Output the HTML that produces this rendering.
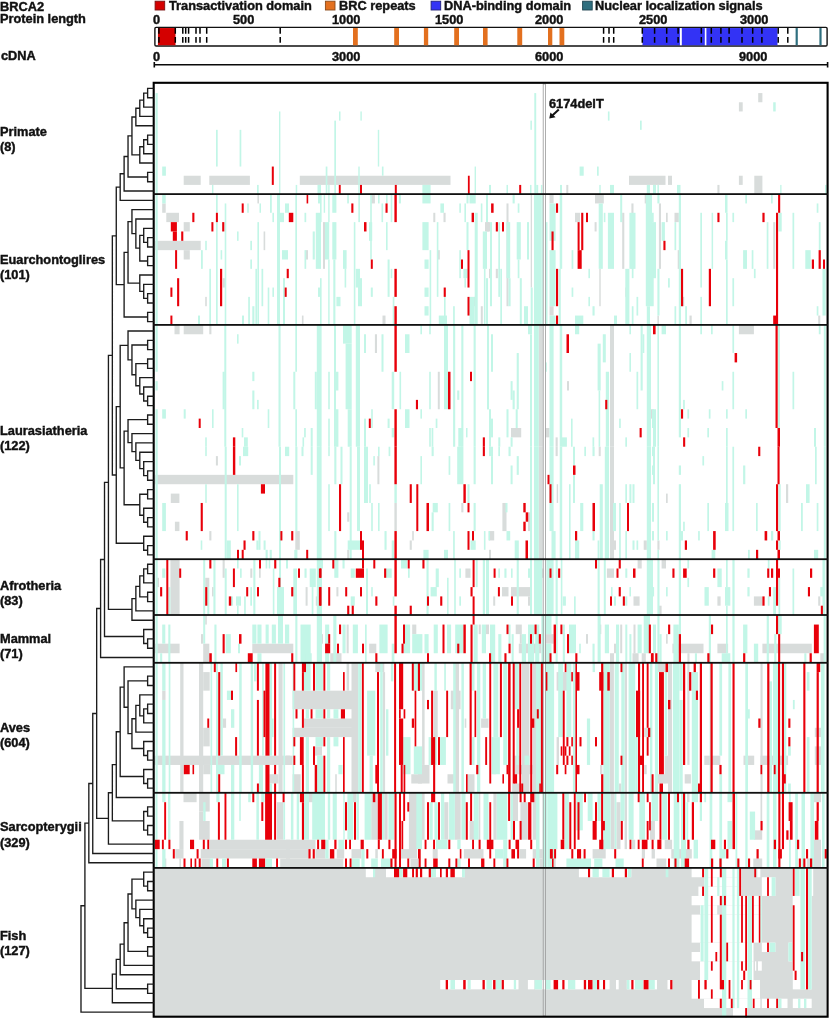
<!DOCTYPE html>
<html><head><meta charset="utf-8"><style>
html,body{margin:0;padding:0;background:#fff;}
body{width:830px;height:1019px;position:relative;overflow:hidden;}
.t{position:absolute;font-family:"Liberation Sans",sans-serif;font-weight:bold;font-size:12px;line-height:1;white-space:nowrap;color:#111;transform-origin:0 0;transform:scaleX(1.065);will-change:transform;-webkit-font-smoothing:antialiased;-webkit-text-stroke:0.4px #111;}
</style></head><body>
<svg width="830" height="1019" viewBox="0 0 830 1019" style="position:absolute;left:0;top:0"><g fill="#d8dcdb"><rect x="170.4" y="559.2" width="9.2" height="55.8"/><rect x="156" y="577.8" width="3" height="9.3"/><rect x="205.2" y="577.8" width="4.1" height="9.3"/><rect x="212" y="587.1" width="1.6" height="9.3"/><rect x="222.6" y="559.2" width="2.1" height="18.6"/><rect x="250.3" y="568.5" width="2" height="9.3"/><rect x="259" y="568.5" width="1.7" height="9.3"/><rect x="305.6" y="587.1" width="2" height="18.6"/><rect x="315.8" y="596.4" width="2.1" height="9.3"/><rect x="155" y="643.68" width="24.6" height="9.56"/><rect x="203.2" y="643.68" width="6.1" height="19.12"/><rect x="201" y="634.12" width="2.2" height="9.56"/><rect x="205.2" y="615" width="1.6" height="9.56"/><rect x="252.3" y="643.68" width="41" height="9.56"/><rect x="304.5" y="634.12" width="2.1" height="9.56"/><rect x="465.4" y="568.5" width="5.1" height="9.3"/><rect x="336.4" y="587.1" width="2" height="9.3"/><rect x="320" y="634.12" width="3" height="9.56"/><rect x="346.6" y="624.56" width="2.1" height="28.68"/><rect x="369.2" y="643.68" width="7.1" height="9.56"/><rect x="412.2" y="624.56" width="4.1" height="9.56"/><rect x="330.2" y="653.24" width="11.3" height="9.56"/><rect x="478.7" y="624.56" width="2.1" height="9.56"/><rect x="541.3" y="568.5" width="2.1" height="9.3"/><rect x="502" y="587.1" width="6.5" height="9.3"/><rect x="511" y="587.1" width="19" height="9.3"/><rect x="528" y="596.4" width="2" height="9.3"/><rect x="493.2" y="596.4" width="2" height="9.3"/><rect x="538.2" y="587.1" width="2.1" height="9.3"/><rect x="606.9" y="568.5" width="7.1" height="9.3"/><rect x="633.5" y="596.4" width="6.1" height="9.3"/><rect x="637.6" y="559.2" width="4.1" height="9.3"/><rect x="486" y="624.56" width="3" height="9.56"/><rect x="515.7" y="624.56" width="6.1" height="9.56"/><rect x="518.8" y="643.68" width="22.5" height="9.56"/><rect x="519.8" y="634.12" width="2" height="9.56"/><rect x="545.4" y="634.12" width="8.2" height="9.56"/><rect x="586" y="634.12" width="2" height="9.56"/><rect x="599.7" y="624.56" width="1.6" height="9.56"/><rect x="610" y="653.24" width="4" height="9.56"/><rect x="614" y="643.68" width="2" height="9.56"/><rect x="620.2" y="624.56" width="2" height="28.68"/><rect x="633.5" y="624.56" width="2" height="28.68"/><rect x="632.5" y="653.24" width="6.1" height="9.56"/><rect x="641.7" y="653.24" width="4.1" height="9.56"/><rect x="644.7" y="624.56" width="2.1" height="9.56"/><rect x="661.6" y="559.2" width="4.4" height="9.3"/><rect x="717.4" y="596.4" width="3.2" height="9.3"/><rect x="753.9" y="596.4" width="8.5" height="9.3"/><rect x="658.4" y="605.7" width="3.2" height="9.3"/><rect x="818.2" y="596.4" width="2.1" height="9.3"/><rect x="666" y="634.12" width="1.7" height="9.56"/><rect x="672.4" y="643.68" width="31.1" height="9.56"/><rect x="717.4" y="643.68" width="10.7" height="9.56"/><rect x="762.4" y="643.68" width="49.4" height="9.56"/><rect x="820.3" y="653.24" width="5" height="9.56"/><rect x="687.4" y="653.24" width="2.1" height="9.56"/><rect x="154.5" y="755.66" width="135.5" height="9.29"/><rect x="180.2" y="662.8" width="3.3" height="130"/><rect x="199" y="662.8" width="4.2" height="130"/><rect x="203.2" y="672.09" width="6.5" height="18.57"/><rect x="203.2" y="727.8" width="6.5" height="18.57"/><rect x="162.2" y="690.66" width="3.3" height="9.29"/><rect x="222.8" y="718.51" width="3.3" height="9.29"/><rect x="278.5" y="662.8" width="4.1" height="130"/><rect x="269.5" y="774.23" width="9" height="9.29"/><rect x="203.2" y="764.94" width="7.3" height="9.29"/><rect x="292.6" y="690.66" width="65.5" height="18.57"/><rect x="304" y="718.51" width="54.1" height="9.29"/><rect x="292.6" y="727.8" width="65.5" height="9.29"/><rect x="351.5" y="662.8" width="6.6" height="130"/><rect x="314.7" y="746.37" width="7.3" height="9.29"/><rect x="286" y="755.66" width="6.6" height="9.29"/><rect x="375.3" y="662.8" width="9" height="9.29"/><rect x="382.7" y="672.09" width="2.4" height="120.71"/><rect x="411.3" y="774.23" width="10.7" height="9.29"/><rect x="292.6" y="774.23" width="8.1" height="18.57"/><rect x="335.2" y="774.23" width="1.6" height="18.57"/><rect x="346.6" y="662.8" width="2.5" height="27.86"/><rect x="422.1" y="662.8" width="2.5" height="102.14"/><rect x="433.6" y="690.66" width="4.1" height="46.43"/><rect x="450.8" y="690.66" width="9.8" height="18.57"/><rect x="454" y="662.8" width="5" height="130"/><rect x="481.1" y="718.51" width="7.4" height="9.29"/><rect x="464.7" y="718.51" width="1.6" height="9.29"/><rect x="418" y="764.94" width="11.5" height="18.57"/><rect x="447.5" y="774.23" width="9.8" height="9.29"/><rect x="467.2" y="774.23" width="7.3" height="18.57"/><rect x="493.4" y="764.94" width="2.4" height="9.29"/><rect x="513" y="755.66" width="6.6" height="18.57"/><rect x="522" y="662.8" width="7.4" height="130"/><rect x="519.6" y="764.94" width="13.1" height="9.29"/><rect x="512.2" y="783.51" width="8.2" height="9.29"/><rect x="532.7" y="662.8" width="3.3" height="130"/><rect x="556.6" y="672.09" width="13.1" height="18.57"/><rect x="556.6" y="737.09" width="2.4" height="27.86"/><rect x="609.8" y="662.8" width="4.1" height="130"/><rect x="624.6" y="662.8" width="2.4" height="130"/><rect x="644.2" y="727.8" width="4.1" height="9.29"/><rect x="644.2" y="764.94" width="2.5" height="9.29"/><rect x="600" y="764.94" width="2.4" height="9.29"/><rect x="618.8" y="783.51" width="2.5" height="9.29"/><rect x="657.3" y="662.8" width="8.2" height="9.29"/><rect x="657.3" y="774.23" width="8.2" height="9.29"/><rect x="668" y="662.8" width="4" height="130"/><rect x="664.7" y="755.66" width="6.6" height="27.86"/><rect x="687.3" y="662.8" width="2.2" height="102.14"/><rect x="684.7" y="774.23" width="6.2" height="9.29"/><rect x="704.3" y="755.66" width="16" height="9.29"/><rect x="743.5" y="755.66" width="10.7" height="9.29"/><rect x="760.5" y="755.66" width="27.6" height="9.29"/><rect x="760.5" y="662.8" width="2.1" height="130"/><rect x="814.8" y="727.8" width="6.2" height="9.29"/><rect x="814.8" y="746.37" width="6.2" height="18.57"/><rect x="162.2" y="203.44" width="3.5" height="9.34"/><rect x="166.3" y="212.79" width="12.7" height="9.34"/><rect x="183.7" y="222.13" width="6.1" height="9.34"/><rect x="155" y="240.81" width="45.7" height="9.34"/><rect x="183.7" y="250.16" width="6.1" height="9.34"/><rect x="257.4" y="194.1" width="1.6" height="9.34"/><rect x="263.6" y="231.47" width="1.6" height="18.69"/><rect x="305.6" y="250.16" width="2.4" height="9.34"/><rect x="222.8" y="278.19" width="2.1" height="9.34"/><rect x="205.2" y="296.87" width="1.6" height="9.34"/><rect x="301.9" y="315.56" width="1.6" height="9.34"/><rect x="371.2" y="194.1" width="3.7" height="9.34"/><rect x="433.3" y="212.79" width="2" height="9.34"/><rect x="443.5" y="212.79" width="2.1" height="9.34"/><rect x="323" y="222.13" width="2" height="46.71"/><rect x="437.8" y="250.16" width="2" height="9.34"/><rect x="485" y="222.13" width="5" height="9.34"/><rect x="474" y="296.87" width="2" height="9.34"/><rect x="480.8" y="306.21" width="2" height="18.69"/><rect x="382.5" y="315.56" width="3" height="9.34"/><rect x="486" y="222.13" width="3" height="9.34"/><rect x="506.5" y="203.44" width="2" height="102.77"/><rect x="549.5" y="194.1" width="4.1" height="9.34"/><rect x="549.5" y="306.21" width="4.1" height="9.34"/><rect x="575" y="212.79" width="5" height="9.34"/><rect x="595" y="194.1" width="8.8" height="9.34"/><rect x="594.6" y="222.13" width="2" height="9.34"/><rect x="599.3" y="268.84" width="1.4" height="37.37"/><rect x="622.2" y="212.79" width="2.1" height="56.06"/><rect x="631.4" y="203.44" width="2.1" height="65.4"/><rect x="644.7" y="194.1" width="2.1" height="9.34"/><rect x="653" y="250.16" width="3" height="18.69"/><rect x="489" y="268.84" width="2" height="9.34"/><rect x="495.8" y="268.84" width="2.1" height="9.34"/><rect x="530.7" y="194.1" width="1.3" height="93.43"/><rect x="625.3" y="287.53" width="2" height="9.34"/><rect x="658.9" y="203.44" width="2.1" height="65.4"/><rect x="666" y="212.79" width="1.7" height="9.34"/><rect x="674.5" y="212.79" width="4.3" height="9.34"/><rect x="652" y="250.16" width="2" height="18.69"/><rect x="677.7" y="250.16" width="2.2" height="18.69"/><rect x="773.2" y="222.13" width="2.1" height="46.71"/><rect x="682" y="296.87" width="2.2" height="9.34"/><rect x="689.5" y="315.56" width="2.2" height="9.34"/><rect x="657.4" y="315.56" width="1.5" height="9.34"/><rect x="818.2" y="315.56" width="2.1" height="9.34"/><rect x="154.5" y="867.9" width="672" height="149.5"/><rect x="174.5" y="324.9" width="5.1" height="9.37"/><rect x="183.7" y="324.9" width="19.5" height="9.37"/><rect x="209.3" y="324.9" width="2.1" height="9.37"/><rect x="374.9" y="334.27" width="2.1" height="18.74"/><rect x="437.8" y="371.76" width="2" height="37.49"/><rect x="567" y="381.13" width="2" height="9.37"/><rect x="610" y="324.9" width="4" height="121.84"/><rect x="511" y="427.99" width="10.2" height="9.37"/><rect x="545.4" y="427.99" width="4.1" height="9.37"/><rect x="555.6" y="437.36" width="2.1" height="9.37"/><rect x="538.8" y="324.9" width="4" height="121.84"/><rect x="651" y="409.25" width="2" height="9.37"/><rect x="738.9" y="324.9" width="15" height="9.37"/><rect x="155" y="474.85" width="138.3" height="9.37"/><rect x="215.9" y="456.11" width="2" height="9.37"/><rect x="170.8" y="493.6" width="8.6" height="9.37"/><rect x="174.9" y="521.71" width="4.5" height="9.37"/><rect x="209.3" y="531.08" width="2.1" height="9.37"/><rect x="295.3" y="531.08" width="4.5" height="18.74"/><rect x="377.4" y="456.11" width="2" height="28.12"/><rect x="394.4" y="502.97" width="2.4" height="28.12"/><rect x="347.2" y="512.34" width="2.1" height="9.37"/><rect x="412.2" y="531.08" width="1.6" height="9.37"/><rect x="409.7" y="540.46" width="2.1" height="9.37"/><rect x="461.3" y="502.97" width="2.1" height="9.37"/><rect x="347.2" y="549.83" width="2.1" height="9.37"/><rect x="538.8" y="446.74" width="4" height="112.46"/><rect x="610" y="446.74" width="4" height="112.46"/><rect x="502.4" y="502.97" width="4.1" height="28.12"/><rect x="489" y="531.08" width="5.2" height="9.37"/><rect x="556.7" y="484.22" width="1.4" height="18.74"/><rect x="489" y="549.83" width="2" height="9.37"/><rect x="598.7" y="446.74" width="2" height="9.37"/><rect x="528" y="512.34" width="2" height="18.74"/><rect x="643.7" y="540.46" width="3.1" height="9.37"/><rect x="555.6" y="446.74" width="2.1" height="9.37"/><rect x="614" y="540.46" width="2" height="9.37"/><rect x="666" y="493.6" width="1.7" height="9.37"/><rect x="786" y="484.22" width="2.2" height="18.74"/><rect x="657.4" y="540.46" width="2.1" height="9.37"/><rect x="183.7" y="175.73" width="17" height="9.18"/><rect x="209.3" y="175.73" width="40.6" height="9.18"/><rect x="299.8" y="175.73" width="150.7" height="9.18"/><rect x="629" y="175.73" width="36.5" height="9.18"/><rect x="566.3" y="184.92" width="2" height="9.18"/><rect x="738.9" y="102.27" width="3.8" height="9.18"/><rect x="758.2" y="93.08" width="4.2" height="9.18"/><rect x="668" y="175.73" width="4" height="9.18"/><rect x="738.9" y="175.73" width="3.8" height="9.18"/><rect x="754.3" y="175.73" width="8.1" height="18.37"/><rect x="717.4" y="184.92" width="2.1" height="9.18"/><rect x="183.5" y="792.8" width="13.1" height="9.39"/><rect x="199.1" y="792.8" width="10.6" height="18.77"/><rect x="199.1" y="811.57" width="4.1" height="9.39"/><rect x="199.1" y="820.96" width="10.6" height="18.77"/><rect x="179.4" y="820.96" width="4.1" height="28.16"/><rect x="209.7" y="839.74" width="80.3" height="9.39"/><rect x="175.3" y="849.12" width="8.2" height="9.39"/><rect x="200.7" y="849.12" width="89.3" height="9.39"/><rect x="201.5" y="858.51" width="9" height="9.39"/><rect x="163" y="858.51" width="3.3" height="9.39"/><rect x="276.9" y="802.19" width="6.5" height="37.55"/><rect x="280.2" y="858.51" width="9.8" height="9.39"/><rect x="179.4" y="858.51" width="1.6" height="9.39"/><rect x="286" y="839.74" width="29.5" height="9.39"/><rect x="286" y="849.12" width="22.1" height="9.39"/><rect x="286" y="858.51" width="57.3" height="9.39"/><rect x="315.5" y="849.12" width="9.8" height="9.39"/><rect x="336.8" y="849.12" width="7.4" height="9.39"/><rect x="351.5" y="849.12" width="9.9" height="9.39"/><rect x="371.2" y="792.8" width="6.6" height="46.94"/><rect x="351.5" y="792.8" width="5" height="9.39"/><rect x="308.1" y="792.8" width="6.6" height="9.39"/><rect x="408.9" y="792.8" width="8.2" height="65.71"/><rect x="375.3" y="849.12" width="2.5" height="9.39"/><rect x="384.3" y="792.8" width="3.3" height="46.94"/><rect x="410.5" y="858.51" width="8.2" height="9.39"/><rect x="400.7" y="849.12" width="9.8" height="9.39"/><rect x="421.3" y="792.8" width="3.3" height="46.94"/><rect x="444.2" y="802.19" width="4.1" height="37.55"/><rect x="454.9" y="792.8" width="5.7" height="46.94"/><rect x="469.6" y="820.96" width="4.9" height="18.77"/><rect x="478.6" y="792.8" width="1.7" height="46.94"/><rect x="493.4" y="792.8" width="3.3" height="46.94"/><rect x="513" y="792.8" width="5" height="28.16"/><rect x="520.4" y="802.19" width="7.4" height="37.55"/><rect x="532.7" y="792.8" width="4.1" height="46.94"/><rect x="432.7" y="849.12" width="5" height="9.39"/><rect x="463.9" y="849.12" width="19.6" height="9.39"/><rect x="532.7" y="849.12" width="9.8" height="9.39"/><rect x="539.3" y="858.51" width="3.2" height="9.39"/><rect x="519.6" y="849.12" width="6.5" height="9.39"/><rect x="610.6" y="792.8" width="4.1" height="56.33"/><rect x="616.4" y="802.19" width="4.1" height="46.94"/><rect x="624.6" y="792.8" width="2.4" height="56.33"/><rect x="631.9" y="839.74" width="3.3" height="9.39"/><rect x="650" y="820.96" width="4.9" height="18.77"/><rect x="664.7" y="839.74" width="7.4" height="9.39"/><rect x="592.6" y="849.12" width="13.1" height="9.39"/><rect x="641.8" y="849.12" width="3.2" height="9.39"/><rect x="651.6" y="849.12" width="3.3" height="9.39"/><rect x="671.3" y="849.12" width="14.7" height="9.39"/><rect x="656.5" y="858.51" width="9.8" height="9.39"/><rect x="553.3" y="858.51" width="2.4" height="9.39"/><rect x="687" y="792.8" width="2.5" height="9.39"/><rect x="760.5" y="792.8" width="1.7" height="28.16"/><rect x="754.2" y="830.35" width="8" height="9.39"/><rect x="682" y="849.12" width="9.8" height="9.39"/><rect x="753.3" y="858.51" width="8.9" height="9.39"/><rect x="814" y="792.8" width="7" height="9.39"/><rect x="814" y="839.74" width="7" height="28.16"/><rect x="806.8" y="858.51" width="3.6" height="9.39"/></g>
<g fill="#ffffff"><rect x="365.8" y="867.9" width="7.3" height="9.34"/><rect x="386" y="867.9" width="79" height="9.34"/><rect x="578.9" y="867.9" width="52.4" height="9.34"/><rect x="691.6" y="867.9" width="49.8" height="9.34"/><rect x="757.3" y="867.9" width="3" height="9.34"/><rect x="792.8" y="867.9" width="20.4" height="28.03"/><rect x="704.4" y="877.24" width="37" height="9.34"/><rect x="761.8" y="877.24" width="13.6" height="18.69"/><rect x="698.4" y="886.59" width="43" height="9.34"/><rect x="691.6" y="895.93" width="70.2" height="9.34"/><rect x="792.8" y="895.93" width="7.6" height="9.34"/><rect x="700" y="905.27" width="17.2" height="9.34"/><rect x="723.3" y="905.27" width="38.5" height="9.34"/><rect x="691.6" y="914.62" width="70.2" height="28.03"/><rect x="700" y="942.65" width="53.5" height="9.34"/><rect x="761.8" y="942.65" width="13.6" height="9.34"/><rect x="788.3" y="942.65" width="3.7" height="18.69"/><rect x="691.6" y="951.99" width="61.9" height="9.34"/><rect x="700" y="961.34" width="53.5" height="18.69"/><rect x="755" y="961.34" width="1.2" height="9.34"/><rect x="758" y="961.34" width="3.8" height="9.34"/><rect x="792.8" y="895.93" width="18.9" height="93.44"/><rect x="440.2" y="980.02" width="78.3" height="9.34"/><rect x="527.9" y="980.02" width="6.2" height="9.34"/><rect x="534.6" y="980.02" width="75" height="9.34"/><rect x="616" y="980.02" width="2.7" height="9.34"/><rect x="626.8" y="980.02" width="30.2" height="9.34"/><rect x="667.5" y="980.02" width="4.9" height="9.34"/><rect x="691.6" y="980.02" width="68.4" height="18.69"/><rect x="704" y="998.71" width="56.3" height="9.34"/><rect x="761.8" y="998.71" width="5.3" height="9.34"/><rect x="768.9" y="998.71" width="18.6" height="9.34"/><rect x="792.8" y="998.71" width="18.9" height="9.34"/><rect x="733" y="1008.06" width="12" height="9.34"/></g>
<g fill="#c2f6e7"><rect x="155.5" y="559.2" width="2.2" height="103.6"/><rect x="162.2" y="568.5" width="3.1" height="9.3"/><rect x="168.3" y="587.1" width="2.1" height="27.9"/><rect x="203.2" y="559.2" width="2" height="55.8"/><rect x="207.3" y="587.1" width="2" height="27.9"/><rect x="213.4" y="559.2" width="2.1" height="55.8"/><rect x="224.7" y="568.5" width="2" height="46.5"/><rect x="230.8" y="596.4" width="2.1" height="9.3"/><rect x="236" y="596.4" width="5" height="9.3"/><rect x="237" y="559.2" width="1.6" height="9.3"/><rect x="237" y="605.7" width="1.6" height="9.3"/><rect x="240" y="568.5" width="1.7" height="9.3"/><rect x="244.1" y="596.4" width="1.7" height="18.6"/><rect x="250.3" y="587.1" width="1.7" height="18.6"/><rect x="253.3" y="559.2" width="2.1" height="55.8"/><rect x="265.6" y="559.2" width="1.7" height="9.3"/><rect x="268.7" y="559.2" width="1.6" height="9.3"/><rect x="272.8" y="568.5" width="1.6" height="46.5"/><rect x="277" y="587.1" width="7" height="27.9"/><rect x="279" y="559.2" width="2" height="27.9"/><rect x="286" y="559.2" width="2" height="9.3"/><rect x="293.3" y="568.5" width="3.7" height="46.5"/><rect x="304.5" y="568.5" width="2.1" height="9.3"/><rect x="309.7" y="568.5" width="6.1" height="18.6"/><rect x="311.7" y="587.1" width="1.7" height="27.9"/><rect x="316.8" y="559.2" width="5.2" height="55.8"/><rect x="162.2" y="624.56" width="3.1" height="19.12"/><rect x="168.3" y="624.56" width="2.1" height="38.24"/><rect x="160.1" y="653.24" width="2.1" height="9.56"/><rect x="203.2" y="615" width="2" height="28.68"/><rect x="214.4" y="624.56" width="2.1" height="38.24"/><rect x="225.7" y="634.12" width="5.1" height="19.12"/><rect x="238" y="643.68" width="2" height="9.56"/><rect x="252.3" y="624.56" width="4.1" height="19.12"/><rect x="257.4" y="624.56" width="4.1" height="19.12"/><rect x="257.4" y="653.24" width="4.1" height="9.56"/><rect x="265.6" y="624.56" width="3.1" height="19.12"/><rect x="271.8" y="624.56" width="4.1" height="19.12"/><rect x="278" y="615" width="5" height="28.68"/><rect x="285" y="624.56" width="4.2" height="19.12"/><rect x="295.3" y="615" width="2.1" height="47.8"/><rect x="300.5" y="624.56" width="10.2" height="38.24"/><rect x="305.6" y="653.24" width="6.1" height="9.56"/><rect x="316.8" y="615" width="5.2" height="47.8"/><rect x="320" y="559.2" width="3" height="9.3"/><rect x="334.3" y="559.2" width="4.1" height="18.6"/><rect x="342.5" y="559.2" width="2.1" height="9.3"/><rect x="350.7" y="568.5" width="4.1" height="9.3"/><rect x="350.7" y="596.4" width="4.1" height="9.3"/><rect x="366" y="568.5" width="2" height="46.5"/><rect x="371.2" y="587.1" width="1.6" height="9.3"/><rect x="385.5" y="568.5" width="6.2" height="9.3"/><rect x="392.7" y="596.4" width="1.7" height="9.3"/><rect x="401" y="559.2" width="6" height="9.3"/><rect x="408" y="568.5" width="1.7" height="9.3"/><rect x="426.5" y="559.2" width="2.1" height="55.8"/><rect x="430.6" y="587.1" width="6.2" height="9.3"/><rect x="435.7" y="568.5" width="3.1" height="18.6"/><rect x="447" y="577.8" width="1.6" height="37.2"/><rect x="454.2" y="559.2" width="1.6" height="55.8"/><rect x="459.3" y="568.5" width="1.7" height="9.3"/><rect x="459.3" y="596.4" width="1.7" height="9.3"/><rect x="475.7" y="559.2" width="2" height="27.9"/><rect x="482.8" y="559.2" width="2.2" height="55.8"/><rect x="325.1" y="624.56" width="4.1" height="38.24"/><rect x="333.3" y="615" width="3.1" height="47.8"/><rect x="342.5" y="624.56" width="3.1" height="28.68"/><rect x="352.8" y="624.56" width="5.1" height="28.68"/><rect x="365" y="624.56" width="1.7" height="38.24"/><rect x="379.4" y="624.56" width="8.2" height="28.68"/><rect x="391.7" y="643.68" width="2.7" height="19.12"/><rect x="404" y="624.56" width="6.1" height="28.68"/><rect x="412.2" y="634.12" width="10.2" height="19.12"/><rect x="424.5" y="634.12" width="4.1" height="19.12"/><rect x="433.7" y="624.56" width="4.1" height="28.68"/><rect x="447" y="624.56" width="4.1" height="28.68"/><rect x="455.2" y="624.56" width="8.2" height="28.68"/><rect x="473.6" y="624.56" width="4.1" height="38.24"/><rect x="481.8" y="624.56" width="4.2" height="28.68"/><rect x="486" y="559.2" width="3" height="55.8"/><rect x="498.3" y="568.5" width="1.7" height="9.3"/><rect x="504.4" y="568.5" width="2.1" height="9.3"/><rect x="511" y="568.5" width="1.6" height="9.3"/><rect x="516.7" y="559.2" width="2.1" height="55.8"/><rect x="528" y="568.5" width="4" height="9.3"/><rect x="530" y="559.2" width="2" height="55.8"/><rect x="534" y="559.2" width="8.3" height="55.8"/><rect x="546.4" y="559.2" width="7.2" height="55.8"/><rect x="555.6" y="559.2" width="2.1" height="55.8"/><rect x="560.8" y="559.2" width="1.6" height="55.8"/><rect x="562.8" y="596.4" width="3.1" height="9.3"/><rect x="574" y="596.4" width="1.7" height="18.6"/><rect x="597.6" y="559.2" width="2.1" height="55.8"/><rect x="603.8" y="559.2" width="2" height="55.8"/><rect x="611" y="587.1" width="1.6" height="9.3"/><rect x="614" y="596.4" width="2" height="9.3"/><rect x="625.3" y="568.5" width="2" height="9.3"/><rect x="625.3" y="596.4" width="2" height="9.3"/><rect x="629.4" y="587.1" width="1.6" height="9.3"/><rect x="646.8" y="559.2" width="6.2" height="55.8"/><rect x="490" y="624.56" width="5.2" height="38.24"/><rect x="498.3" y="634.12" width="3.1" height="28.68"/><rect x="508.5" y="624.56" width="2.1" height="19.12"/><rect x="511.6" y="634.12" width="2.1" height="28.68"/><rect x="521.8" y="634.12" width="4.2" height="28.68"/><rect x="528" y="624.56" width="6.1" height="38.24"/><rect x="535.2" y="624.56" width="4.1" height="38.24"/><rect x="541.3" y="615" width="3.1" height="47.8"/><rect x="545.4" y="615" width="6.1" height="19.12"/><rect x="545.4" y="643.68" width="6.1" height="19.12"/><rect x="555.6" y="615" width="2.1" height="47.8"/><rect x="562.8" y="624.56" width="2.1" height="38.24"/><rect x="569" y="624.56" width="7" height="28.68"/><rect x="579.2" y="643.68" width="1.6" height="9.56"/><rect x="592.5" y="643.68" width="2.1" height="19.12"/><rect x="597.6" y="615" width="3.1" height="47.8"/><rect x="604.8" y="624.56" width="4.2" height="28.68"/><rect x="616" y="624.56" width="3.1" height="38.24"/><rect x="625.3" y="624.56" width="2" height="38.24"/><rect x="629.4" y="634.12" width="2" height="28.68"/><rect x="637.6" y="624.56" width="4.1" height="28.68"/><rect x="643.7" y="615" width="6.3" height="38.24"/><rect x="653" y="624.56" width="3" height="28.68"/><rect x="652" y="587.1" width="2.1" height="9.3"/><rect x="657.4" y="559.2" width="2.1" height="103.6"/><rect x="666" y="587.1" width="1.7" height="9.3"/><rect x="678.8" y="559.2" width="2.2" height="74.92"/><rect x="687.4" y="559.2" width="1.7" height="9.3"/><rect x="687.4" y="577.8" width="1.7" height="9.3"/><rect x="704.5" y="587.1" width="4.3" height="18.6"/><rect x="717.4" y="568.5" width="4.3" height="18.6"/><rect x="725" y="587.1" width="5.3" height="18.6"/><rect x="726" y="559.2" width="1.7" height="27.9"/><rect x="726" y="605.7" width="1.7" height="47.54"/><rect x="732.4" y="559.2" width="2.2" height="103.6"/><rect x="747.4" y="568.5" width="2.2" height="9.3"/><rect x="747.4" y="587.1" width="2.2" height="9.3"/><rect x="767.8" y="559.2" width="1.7" height="9.3"/><rect x="767.8" y="596.4" width="1.7" height="9.3"/><rect x="773.2" y="587.1" width="2.8" height="27.9"/><rect x="778.5" y="577.8" width="1.7" height="37.2"/><rect x="792.5" y="568.5" width="1.7" height="46.5"/><rect x="820.3" y="587.1" width="3.3" height="9.3"/><rect x="822.5" y="559.2" width="2.8" height="55.8"/><rect x="659.5" y="634.12" width="2.1" height="28.68"/><rect x="673.4" y="624.56" width="5.4" height="38.24"/><rect x="694.9" y="653.24" width="2.1" height="9.56"/><rect x="708.8" y="615" width="2.2" height="47.8"/><rect x="721.7" y="653.24" width="8.6" height="9.56"/><rect x="743.1" y="624.56" width="4.3" height="28.68"/><rect x="753.9" y="643.68" width="4.3" height="19.12"/><rect x="766.7" y="615" width="2.2" height="47.8"/><rect x="778.1" y="615" width="3.6" height="19.12"/><rect x="774.2" y="634.12" width="2.2" height="28.68"/><rect x="804.3" y="653.24" width="2.1" height="9.56"/><rect x="823.6" y="615" width="2.1" height="47.8"/><rect x="155.5" y="662.8" width="2.2" height="130"/><rect x="162.2" y="662.8" width="3.3" height="27.86"/><rect x="162.2" y="699.94" width="3.3" height="92.86"/><rect x="168.7" y="662.8" width="1.7" height="130"/><rect x="210.5" y="662.8" width="1.7" height="130"/><rect x="216" y="662.8" width="2" height="130"/><rect x="216.3" y="764.94" width="8.2" height="9.29"/><rect x="220.4" y="662.8" width="2.4" height="92.86"/><rect x="226.9" y="690.66" width="4.1" height="9.29"/><rect x="231" y="709.23" width="3.3" height="18.57"/><rect x="231" y="764.94" width="3.3" height="27.86"/><rect x="239.2" y="662.8" width="2.5" height="130"/><rect x="250.7" y="662.8" width="2.4" height="130"/><rect x="254" y="662.8" width="2.4" height="18.57"/><rect x="258.9" y="764.94" width="4.1" height="27.86"/><rect x="262.1" y="662.8" width="1.7" height="92.86"/><rect x="269.5" y="662.8" width="2.5" height="92.86"/><rect x="269.5" y="783.51" width="2.5" height="9.29"/><rect x="272" y="718.51" width="1.6" height="18.57"/><rect x="283.4" y="662.8" width="1.7" height="130"/><rect x="292.6" y="662.8" width="1.6" height="130"/><rect x="304" y="662.8" width="6.6" height="27.86"/><rect x="305.7" y="709.23" width="3.3" height="9.29"/><rect x="305.7" y="737.09" width="3.3" height="55.71"/><rect x="315.5" y="662.8" width="7.4" height="27.86"/><rect x="315.5" y="709.23" width="7.4" height="9.29"/><rect x="315.5" y="737.09" width="7.4" height="9.29"/><rect x="317.1" y="755.66" width="5.8" height="37.14"/><rect x="327" y="662.8" width="3.2" height="27.86"/><rect x="327" y="709.23" width="3.2" height="9.29"/><rect x="327" y="737.09" width="3.2" height="55.71"/><rect x="333.5" y="709.23" width="4.9" height="9.29"/><rect x="333.5" y="737.09" width="4.9" height="9.29"/><rect x="338.4" y="764.94" width="4.1" height="9.29"/><rect x="358.1" y="662.8" width="3.3" height="130"/><rect x="367.1" y="690.66" width="8.2" height="65"/><rect x="369.6" y="755.66" width="3.2" height="37.14"/><rect x="380.2" y="662.8" width="2.5" height="130"/><rect x="386" y="709.23" width="2.4" height="46.43"/><rect x="390.9" y="662.8" width="2.4" height="18.57"/><rect x="403.2" y="737.09" width="7.3" height="37.14"/><rect x="413.8" y="662.8" width="8.2" height="27.86"/><rect x="413.8" y="746.37" width="8.2" height="27.86"/><rect x="428.6" y="737.09" width="2.5" height="27.86"/><rect x="434.4" y="662.8" width="2.4" height="27.86"/><rect x="434.4" y="737.09" width="2.4" height="27.86"/><rect x="440.1" y="737.09" width="5.8" height="27.86"/><rect x="444.2" y="662.8" width="1.7" height="27.86"/><rect x="453.2" y="662.8" width="2.5" height="130"/><rect x="461.4" y="662.8" width="2.5" height="130"/><rect x="472.1" y="662.8" width="2.4" height="27.86"/><rect x="472.1" y="737.09" width="2.4" height="27.86"/><rect x="477" y="662.8" width="3.3" height="130"/><rect x="482.7" y="662.8" width="3.3" height="55.71"/><rect x="491.7" y="737.09" width="8.2" height="37.14"/><rect x="493.4" y="662.8" width="4.9" height="74.29"/><rect x="503.2" y="662.8" width="4.1" height="102.14"/><rect x="514.7" y="662.8" width="4.1" height="46.43"/><rect x="516.3" y="727.8" width="2.5" height="37.14"/><rect x="524.5" y="755.66" width="4.9" height="9.29"/><rect x="536" y="662.8" width="4.9" height="130"/><rect x="545.8" y="662.8" width="8.2" height="130"/><rect x="550" y="662.8" width="4.1" height="130"/><rect x="558.2" y="662.8" width="4.9" height="74.29"/><rect x="566.4" y="662.8" width="4.9" height="74.29"/><rect x="572.9" y="662.8" width="2.5" height="130"/><rect x="586.9" y="718.51" width="3.2" height="46.43"/><rect x="592.6" y="662.8" width="2.4" height="9.29"/><rect x="603.3" y="662.8" width="6.5" height="130"/><rect x="614.7" y="662.8" width="4.1" height="130"/><rect x="621.3" y="662.8" width="3.3" height="130"/><rect x="628.6" y="662.8" width="6.6" height="130"/><rect x="635.2" y="737.09" width="2.5" height="55.71"/><rect x="650" y="662.8" width="2.4" height="130"/><rect x="654.9" y="662.8" width="3.2" height="130"/><rect x="664.7" y="672.09" width="2.5" height="83.57"/><rect x="672.9" y="662.8" width="6.5" height="130"/><rect x="679.4" y="662.8" width="3.3" height="27.86"/><rect x="679.4" y="699.94" width="3.3" height="92.86"/><rect x="691.8" y="672.09" width="6.2" height="120.71"/><rect x="709.6" y="662.8" width="1.8" height="130"/><rect x="719.4" y="662.8" width="2.7" height="92.86"/><rect x="719.4" y="774.23" width="2.7" height="18.57"/><rect x="728.4" y="662.8" width="2.6" height="130"/><rect x="745.3" y="662.8" width="2.7" height="130"/><rect x="748" y="709.23" width="1.8" height="9.29"/><rect x="769.4" y="681.37" width="2.6" height="111.43"/><rect x="773" y="662.8" width="5.3" height="130"/><rect x="784" y="662.8" width="2.3" height="130"/><rect x="788.1" y="746.37" width="2.7" height="9.29"/><rect x="788.1" y="783.51" width="2.7" height="9.29"/><rect x="792.9" y="699.94" width="1.8" height="9.29"/><rect x="806.8" y="672.09" width="2.7" height="18.57"/><rect x="806.8" y="737.09" width="2.7" height="55.71"/><rect x="821" y="662.8" width="3.6" height="130"/><rect x="155.5" y="194.1" width="2.2" height="130.8"/><rect x="162.2" y="194.1" width="3.5" height="9.34"/><rect x="216" y="194.1" width="1.7" height="18.69"/><rect x="216" y="222.13" width="1.7" height="102.77"/><rect x="224.7" y="203.44" width="1.6" height="121.46"/><rect x="201" y="250.16" width="1.8" height="18.69"/><rect x="205.2" y="240.81" width="1.6" height="9.34"/><rect x="209.3" y="268.84" width="1.7" height="56.06"/><rect x="220.6" y="250.16" width="1.6" height="9.34"/><rect x="237" y="231.47" width="1.6" height="9.34"/><rect x="247.2" y="203.44" width="1.6" height="9.34"/><rect x="250.3" y="240.81" width="1.7" height="9.34"/><rect x="250.3" y="259.5" width="1.7" height="9.34"/><rect x="255.4" y="268.84" width="1.6" height="56.06"/><rect x="257.4" y="222.13" width="1.6" height="102.77"/><rect x="259.5" y="203.44" width="1.5" height="9.34"/><rect x="261.5" y="268.84" width="1.7" height="37.37"/><rect x="267.7" y="287.53" width="1.6" height="37.37"/><rect x="270" y="194.1" width="1.8" height="18.69"/><rect x="272.4" y="212.79" width="1.6" height="9.34"/><rect x="272.4" y="287.53" width="1.6" height="9.34"/><rect x="277" y="194.1" width="3" height="130.8"/><rect x="280" y="212.79" width="4" height="9.34"/><rect x="282" y="250.16" width="6" height="9.34"/><rect x="285" y="203.44" width="4" height="9.34"/><rect x="283" y="278.19" width="2" height="46.71"/><rect x="295.3" y="194.1" width="1.7" height="130.8"/><rect x="304.5" y="212.79" width="1.7" height="9.34"/><rect x="304.5" y="250.16" width="1.7" height="18.69"/><rect x="312.7" y="231.47" width="2.1" height="28.03"/><rect x="315.8" y="212.79" width="5.2" height="56.06"/><rect x="318" y="194.1" width="3" height="9.34"/><rect x="318" y="287.53" width="3" height="9.34"/><rect x="248.2" y="296.87" width="1.7" height="28.03"/><rect x="252.3" y="306.21" width="2.1" height="18.69"/><rect x="242" y="315.56" width="2" height="9.34"/><rect x="198" y="315.56" width="2" height="9.34"/><rect x="320" y="194.1" width="1.6" height="28.03"/><rect x="320" y="278.19" width="1.6" height="46.71"/><rect x="323.7" y="194.1" width="1.4" height="18.69"/><rect x="325" y="222.13" width="4.2" height="37.37"/><rect x="328.2" y="194.1" width="1.4" height="28.03"/><rect x="328.2" y="259.5" width="1.4" height="65.4"/><rect x="332.3" y="194.1" width="4.1" height="18.69"/><rect x="332.3" y="222.13" width="4.1" height="37.37"/><rect x="333.3" y="259.5" width="2.1" height="65.4"/><rect x="336.4" y="296.87" width="4.1" height="9.34"/><rect x="343" y="250.16" width="3.6" height="18.69"/><rect x="344.6" y="268.84" width="1.6" height="18.69"/><rect x="347.2" y="194.1" width="1.7" height="9.34"/><rect x="353.8" y="222.13" width="1.6" height="102.77"/><rect x="355.8" y="268.84" width="4.2" height="18.69"/><rect x="358" y="278.19" width="4" height="28.03"/><rect x="358.3" y="194.1" width="1.7" height="28.03"/><rect x="369" y="222.13" width="3.2" height="18.69"/><rect x="370.2" y="194.1" width="1.6" height="65.4"/><rect x="370.8" y="287.53" width="2" height="9.34"/><rect x="378" y="194.1" width="1.6" height="9.34"/><rect x="381.5" y="203.44" width="1.6" height="18.69"/><rect x="386" y="194.1" width="1.6" height="9.34"/><rect x="386" y="222.13" width="1.6" height="28.03"/><rect x="387.6" y="259.5" width="2" height="37.37"/><rect x="390.7" y="194.1" width="1.6" height="28.03"/><rect x="390.7" y="268.84" width="1.6" height="9.34"/><rect x="392.7" y="296.87" width="1.7" height="28.03"/><rect x="398.9" y="194.1" width="2" height="9.34"/><rect x="422.4" y="194.1" width="8.2" height="9.34"/><rect x="422.4" y="222.13" width="6.2" height="28.03"/><rect x="424.5" y="259.5" width="4.1" height="9.34"/><rect x="424.5" y="287.53" width="4.1" height="9.34"/><rect x="424.5" y="306.21" width="4.1" height="9.34"/><rect x="429.6" y="250.16" width="1.6" height="74.74"/><rect x="436.8" y="222.13" width="1.6" height="74.74"/><rect x="440.4" y="203.44" width="3.6" height="9.34"/><rect x="444" y="296.87" width="1.6" height="28.03"/><rect x="438.8" y="315.56" width="8.2" height="9.34"/><rect x="453.1" y="306.21" width="1.7" height="18.69"/><rect x="459.3" y="203.44" width="1.6" height="9.34"/><rect x="459.3" y="250.16" width="1.6" height="28.03"/><rect x="463.4" y="268.84" width="4.1" height="9.34"/><rect x="464.4" y="203.44" width="1.6" height="18.69"/><rect x="464.4" y="278.19" width="1.6" height="9.34"/><rect x="466.5" y="194.1" width="2" height="9.34"/><rect x="466.5" y="222.13" width="2" height="28.03"/><rect x="469.5" y="194.1" width="6.2" height="9.34"/><rect x="469.5" y="296.87" width="5.2" height="28.03"/><rect x="474.7" y="212.79" width="3" height="112.11"/><rect x="480.8" y="203.44" width="1.6" height="18.69"/><rect x="482.8" y="231.47" width="4.2" height="37.37"/><rect x="483.9" y="268.84" width="1.6" height="56.06"/><rect x="486" y="194.1" width="2" height="28.03"/><rect x="486" y="278.19" width="2" height="46.71"/><rect x="490" y="222.13" width="2" height="84.09"/><rect x="498.3" y="222.13" width="1.7" height="74.74"/><rect x="500.3" y="268.84" width="1.7" height="56.06"/><rect x="506.5" y="222.13" width="3.7" height="56.06"/><rect x="508.5" y="278.19" width="2.1" height="28.03"/><rect x="512.6" y="194.1" width="2.1" height="9.34"/><rect x="516.7" y="222.13" width="4.1" height="37.37"/><rect x="517.7" y="203.44" width="1.7" height="9.34"/><rect x="517.7" y="259.5" width="1.7" height="18.69"/><rect x="519.8" y="278.19" width="2" height="46.71"/><rect x="524" y="306.21" width="4" height="18.69"/><rect x="527" y="222.13" width="2" height="37.37"/><rect x="530.7" y="287.53" width="2" height="37.37"/><rect x="534" y="194.1" width="7.3" height="130.8"/><rect x="541.3" y="194.1" width="1.5" height="130.8"/><rect x="545.6" y="222.13" width="1.9" height="102.77"/><rect x="549.5" y="203.44" width="6.1" height="37.37"/><rect x="549.5" y="250.16" width="6.1" height="56.06"/><rect x="549.5" y="315.56" width="6.1" height="9.34"/><rect x="559.7" y="194.1" width="2.5" height="74.74"/><rect x="558.7" y="268.84" width="2.1" height="56.06"/><rect x="571.6" y="250.16" width="1.7" height="18.69"/><rect x="571.6" y="287.53" width="1.7" height="9.34"/><rect x="575" y="315.56" width="8.3" height="9.34"/><rect x="588.4" y="268.84" width="1.6" height="9.34"/><rect x="588.4" y="296.87" width="1.6" height="9.34"/><rect x="592.5" y="306.21" width="2.1" height="9.34"/><rect x="598.7" y="203.44" width="4.1" height="65.4"/><rect x="603.8" y="212.79" width="1.6" height="9.34"/><rect x="607.9" y="212.79" width="6.1" height="56.06"/><rect x="614" y="315.56" width="3" height="9.34"/><rect x="620.2" y="194.1" width="2" height="28.03"/><rect x="625.3" y="268.84" width="4.1" height="56.06"/><rect x="629.4" y="212.79" width="6.1" height="56.06"/><rect x="631.8" y="268.84" width="1.7" height="9.34"/><rect x="631.8" y="306.21" width="1.7" height="18.69"/><rect x="636.5" y="296.87" width="1.7" height="18.69"/><rect x="645.8" y="194.1" width="6.2" height="112.11"/><rect x="646.8" y="306.21" width="3.2" height="18.69"/><rect x="651.5" y="222.13" width="4.5" height="56.06"/><rect x="657.4" y="194.1" width="2.1" height="9.34"/><rect x="657.4" y="268.84" width="2.1" height="46.71"/><rect x="661.6" y="222.13" width="3.3" height="18.69"/><rect x="652" y="212.79" width="1.7" height="9.34"/><rect x="652" y="268.84" width="1.7" height="37.37"/><rect x="668" y="278.19" width="1.8" height="9.34"/><rect x="674.5" y="222.13" width="1.7" height="28.03"/><rect x="674.5" y="306.21" width="1.7" height="18.69"/><rect x="678.8" y="194.1" width="2.2" height="130.8"/><rect x="685.2" y="306.21" width="1.8" height="18.69"/><rect x="700.3" y="212.79" width="1.7" height="74.74"/><rect x="700.3" y="296.87" width="1.7" height="28.03"/><rect x="711.6" y="212.79" width="1.5" height="56.06"/><rect x="725" y="194.1" width="2.5" height="18.69"/><rect x="725" y="240.81" width="2.5" height="18.69"/><rect x="726" y="212.79" width="1.7" height="28.03"/><rect x="726" y="259.5" width="1.7" height="65.4"/><rect x="732.4" y="212.79" width="1.7" height="9.34"/><rect x="732.4" y="278.19" width="1.7" height="28.03"/><rect x="743.1" y="250.16" width="3.9" height="18.69"/><rect x="745.3" y="194.1" width="1.7" height="9.34"/><rect x="751.7" y="250.16" width="1.7" height="18.69"/><rect x="753.9" y="268.84" width="1.7" height="9.34"/><rect x="766.7" y="222.13" width="1.7" height="46.71"/><rect x="771" y="194.1" width="1.7" height="9.34"/><rect x="778.5" y="212.79" width="3.2" height="18.69"/><rect x="792.5" y="212.79" width="1.7" height="56.06"/><rect x="805.3" y="250.16" width="5.4" height="18.69"/><rect x="816.7" y="203.44" width="1.7" height="9.34"/><rect x="816.7" y="306.21" width="1.7" height="9.34"/><rect x="818.8" y="222.13" width="1.8" height="28.03"/><rect x="822.5" y="268.84" width="3.2" height="46.71"/><rect x="704.4" y="867.9" width="3.8" height="112.12"/><rect x="700.6" y="905.27" width="3" height="56.06"/><rect x="722" y="867.9" width="4.3" height="149.5"/><rect x="732.4" y="867.9" width="2.2" height="140.16"/><rect x="736.9" y="867.9" width="2.3" height="140.16"/><rect x="747.5" y="895.93" width="4.5" height="112.12"/><rect x="795" y="867.9" width="4.6" height="28.03"/><rect x="800.4" y="867.9" width="4.5" height="121.47"/><rect x="808" y="867.9" width="3.7" height="121.47"/><rect x="760.3" y="895.93" width="1.5" height="46.72"/><rect x="771.6" y="877.24" width="3.8" height="18.69"/><rect x="769.4" y="942.65" width="6" height="9.34"/><rect x="788.3" y="942.65" width="3.7" height="18.69"/><rect x="717.2" y="877.24" width="2.3" height="18.69"/><rect x="373" y="867.9" width="2.2" height="9.34"/><rect x="399.1" y="867.9" width="3.6" height="9.34"/><rect x="430.9" y="867.9" width="5.1" height="9.34"/><rect x="462" y="867.9" width="2.9" height="9.34"/><rect x="592.5" y="867.9" width="6.3" height="9.34"/><rect x="602.4" y="867.9" width="7.2" height="9.34"/><rect x="627.7" y="867.9" width="3.6" height="9.34"/><rect x="665.7" y="867.9" width="2.7" height="9.34"/><rect x="450.4" y="980.02" width="4.6" height="9.34"/><rect x="467.6" y="980.02" width="3.1" height="9.34"/><rect x="486.4" y="980.02" width="5.5" height="9.34"/><rect x="495.8" y="980.02" width="5.5" height="9.34"/><rect x="513.8" y="980.02" width="2.3" height="9.34"/><rect x="534.6" y="980.02" width="7.4" height="9.34"/><rect x="545.9" y="980.02" width="4.7" height="9.34"/><rect x="568" y="980.02" width="7.3" height="9.34"/><rect x="592.5" y="980.02" width="4.5" height="9.34"/><rect x="626.8" y="980.02" width="2.7" height="9.34"/><rect x="635" y="980.02" width="8" height="9.34"/><rect x="648.5" y="980.02" width="6.3" height="9.34"/><rect x="777.7" y="998.71" width="3.8" height="9.34"/><rect x="798.1" y="998.71" width="2.3" height="9.34"/><rect x="804" y="998.71" width="2.4" height="9.34"/><rect x="155.5" y="324.9" width="2.2" height="46.86"/><rect x="155.5" y="381.13" width="2.2" height="9.37"/><rect x="155.5" y="409.25" width="2.2" height="149.95"/><rect x="162.2" y="409.25" width="3.7" height="9.37"/><rect x="183.7" y="409.25" width="2" height="9.37"/><rect x="212" y="409.25" width="1.6" height="18.74"/><rect x="205.2" y="437.36" width="1.6" height="9.37"/><rect x="224.3" y="324.9" width="2" height="121.84"/><rect x="222.6" y="371.76" width="2.1" height="37.49"/><rect x="237" y="334.27" width="1.6" height="9.37"/><rect x="252.3" y="371.76" width="2.1" height="9.37"/><rect x="252.3" y="390.5" width="2.1" height="18.74"/><rect x="257" y="399.88" width="1.7" height="9.37"/><rect x="267.7" y="409.25" width="1.6" height="18.74"/><rect x="241.7" y="427.99" width="1.6" height="9.37"/><rect x="244" y="437.36" width="3.8" height="9.37"/><rect x="278.5" y="324.9" width="2.1" height="121.84"/><rect x="295.3" y="324.9" width="1.7" height="46.86"/><rect x="293.3" y="371.76" width="2" height="37.49"/><rect x="295.3" y="409.25" width="1.7" height="37.49"/><rect x="302.5" y="437.36" width="1.6" height="9.37"/><rect x="304.1" y="427.99" width="1.7" height="9.37"/><rect x="310.7" y="427.99" width="2" height="18.74"/><rect x="316.8" y="324.9" width="4.2" height="121.84"/><rect x="314.8" y="371.76" width="2" height="37.49"/><rect x="320" y="324.9" width="1.6" height="121.84"/><rect x="328.2" y="371.76" width="1.6" height="37.49"/><rect x="328.2" y="418.62" width="1.6" height="28.12"/><rect x="334" y="324.9" width="2" height="121.84"/><rect x="336" y="371.76" width="2.4" height="18.74"/><rect x="336" y="409.25" width="2.4" height="37.49"/><rect x="343" y="324.9" width="8.7" height="18.74"/><rect x="345.6" y="343.64" width="6.1" height="65.6"/><rect x="347.7" y="409.25" width="4" height="37.49"/><rect x="355.8" y="324.9" width="4.2" height="121.84"/><rect x="364" y="334.27" width="2" height="18.74"/><rect x="364" y="418.62" width="2" height="28.12"/><rect x="371.2" y="409.25" width="1.6" height="18.74"/><rect x="381.5" y="334.27" width="2" height="37.49"/><rect x="387.6" y="418.62" width="2" height="9.37"/><rect x="391.7" y="371.76" width="2.5" height="37.49"/><rect x="391.7" y="427.99" width="2.5" height="9.37"/><rect x="399.5" y="371.76" width="1.6" height="37.49"/><rect x="405" y="334.27" width="4.5" height="18.74"/><rect x="405" y="409.25" width="4.5" height="18.74"/><rect x="420.4" y="324.9" width="1.6" height="9.37"/><rect x="420.4" y="409.25" width="1.6" height="9.37"/><rect x="429.2" y="324.9" width="1.6" height="9.37"/><rect x="429.2" y="371.76" width="1.6" height="37.49"/><rect x="429.2" y="427.99" width="1.6" height="18.74"/><rect x="435.7" y="418.62" width="1.7" height="9.37"/><rect x="431.6" y="427.99" width="1.7" height="18.74"/><rect x="444" y="324.9" width="4" height="84.35"/><rect x="453.1" y="324.9" width="2.1" height="121.84"/><rect x="457.2" y="390.5" width="2.1" height="9.37"/><rect x="461.3" y="324.9" width="2.1" height="121.84"/><rect x="458.3" y="427.99" width="4.1" height="18.74"/><rect x="466" y="427.99" width="1.5" height="9.37"/><rect x="473.6" y="324.9" width="2.1" height="121.84"/><rect x="487" y="324.9" width="2" height="84.35"/><rect x="487" y="324.9" width="2" height="84.35"/><rect x="491" y="334.27" width="2" height="37.49"/><rect x="491" y="418.62" width="2" height="18.74"/><rect x="489" y="409.25" width="2" height="37.49"/><rect x="506.5" y="409.25" width="2" height="28.12"/><rect x="510.6" y="381.13" width="2" height="18.74"/><rect x="512.6" y="390.5" width="2.1" height="18.74"/><rect x="516.7" y="353.02" width="2.1" height="56.23"/><rect x="515.7" y="409.25" width="2" height="18.74"/><rect x="498.3" y="437.36" width="2" height="9.37"/><rect x="510.6" y="437.36" width="2" height="9.37"/><rect x="528" y="324.9" width="4" height="9.37"/><rect x="530" y="334.27" width="2" height="112.46"/><rect x="534" y="324.9" width="4.8" height="121.84"/><rect x="545.6" y="362.39" width="1.2" height="9.37"/><rect x="549.5" y="324.9" width="4.1" height="121.84"/><rect x="559.7" y="324.9" width="2.5" height="121.84"/><rect x="561.8" y="437.36" width="5.1" height="9.37"/><rect x="571" y="418.62" width="1.6" height="28.12"/><rect x="575" y="324.9" width="4.2" height="9.37"/><rect x="592.5" y="437.36" width="1.7" height="9.37"/><rect x="597.6" y="343.64" width="3.1" height="46.86"/><rect x="598.6" y="390.5" width="1.6" height="56.23"/><rect x="602.8" y="334.27" width="3" height="28.12"/><rect x="605.8" y="371.76" width="3.2" height="74.98"/><rect x="619.1" y="418.62" width="1.7" height="9.37"/><rect x="625.3" y="437.36" width="1.7" height="9.37"/><rect x="629.4" y="324.9" width="1.6" height="9.37"/><rect x="629.4" y="353.02" width="1.6" height="18.74"/><rect x="636.5" y="371.76" width="1.7" height="37.49"/><rect x="640.6" y="324.9" width="2.1" height="65.6"/><rect x="642.7" y="334.27" width="1.6" height="18.74"/><rect x="646.8" y="324.9" width="4.2" height="121.84"/><rect x="653" y="409.25" width="3" height="37.49"/><rect x="657.4" y="324.9" width="1.6" height="121.84"/><rect x="661.6" y="324.9" width="4.4" height="9.37"/><rect x="652" y="409.25" width="2" height="18.74"/><rect x="678.8" y="324.9" width="2.2" height="112.46"/><rect x="683.1" y="399.88" width="1.7" height="9.37"/><rect x="687.4" y="409.25" width="1.7" height="9.37"/><rect x="687.4" y="427.99" width="1.7" height="9.37"/><rect x="700.3" y="324.9" width="1.7" height="9.37"/><rect x="707.3" y="427.99" width="1.7" height="9.37"/><rect x="708.8" y="409.25" width="1.7" height="9.37"/><rect x="711" y="324.9" width="1.7" height="9.37"/><rect x="721.7" y="381.13" width="1.7" height="9.37"/><rect x="726" y="409.25" width="1.7" height="9.37"/><rect x="726" y="427.99" width="1.7" height="18.74"/><rect x="732.4" y="324.9" width="1.7" height="28.12"/><rect x="732.4" y="371.76" width="1.7" height="37.49"/><rect x="745.3" y="409.25" width="1.7" height="9.37"/><rect x="778" y="324.9" width="2" height="103.09"/><rect x="792.5" y="371.76" width="1.7" height="37.49"/><rect x="814" y="427.99" width="2" height="18.74"/><rect x="818.8" y="324.9" width="1.8" height="9.37"/><rect x="823.8" y="324.9" width="2" height="121.84"/><rect x="162.2" y="502.97" width="3.7" height="28.12"/><rect x="205.2" y="446.74" width="1.6" height="9.37"/><rect x="205.2" y="484.22" width="1.6" height="18.74"/><rect x="200.7" y="540.46" width="1.6" height="9.37"/><rect x="224.7" y="446.74" width="2" height="112.46"/><rect x="226.7" y="540.46" width="4.1" height="18.74"/><rect x="237" y="484.22" width="1.6" height="46.86"/><rect x="239" y="456.11" width="2" height="9.37"/><rect x="243" y="446.74" width="5.2" height="9.37"/><rect x="258.5" y="531.08" width="2" height="18.74"/><rect x="256.4" y="540.46" width="2.1" height="9.37"/><rect x="263.6" y="540.46" width="2" height="9.37"/><rect x="265.6" y="549.83" width="2.1" height="9.37"/><rect x="269.7" y="549.83" width="2.1" height="9.37"/><rect x="279" y="446.74" width="2" height="112.46"/><rect x="285" y="446.74" width="4.2" height="9.37"/><rect x="295.3" y="446.74" width="2.1" height="84.35"/><rect x="294.3" y="549.83" width="3.1" height="9.37"/><rect x="301.5" y="446.74" width="2" height="9.37"/><rect x="310.7" y="446.74" width="2" height="28.12"/><rect x="316.8" y="446.74" width="4.2" height="112.46"/><rect x="320" y="446.74" width="1.6" height="112.46"/><rect x="328.2" y="446.74" width="1.6" height="9.37"/><rect x="328.2" y="484.22" width="1.6" height="46.86"/><rect x="334.3" y="446.74" width="2.1" height="37.49"/><rect x="334.3" y="531.08" width="2.1" height="28.12"/><rect x="340.5" y="446.74" width="2" height="37.49"/><rect x="349.7" y="446.74" width="2" height="112.46"/><rect x="347.7" y="540.46" width="12.3" height="9.37"/><rect x="357" y="446.74" width="3" height="84.35"/><rect x="364" y="446.74" width="4" height="56.23"/><rect x="369.2" y="484.22" width="1.6" height="18.74"/><rect x="373.3" y="456.11" width="1.6" height="9.37"/><rect x="371.2" y="502.97" width="1.6" height="28.12"/><rect x="378" y="446.74" width="1.6" height="9.37"/><rect x="378" y="502.97" width="1.6" height="28.12"/><rect x="384.5" y="531.08" width="2.1" height="18.74"/><rect x="388.6" y="446.74" width="1.7" height="9.37"/><rect x="391.7" y="540.46" width="2.5" height="18.74"/><rect x="394.4" y="484.22" width="2.4" height="18.74"/><rect x="420.4" y="456.11" width="1.6" height="28.12"/><rect x="423.4" y="549.83" width="5.2" height="9.37"/><rect x="432.7" y="502.97" width="5.1" height="9.37"/><rect x="431.6" y="446.74" width="2.1" height="9.37"/><rect x="431.6" y="512.34" width="2.1" height="18.74"/><rect x="444" y="549.83" width="4" height="9.37"/><rect x="448.6" y="456.11" width="1.7" height="18.74"/><rect x="448.6" y="502.97" width="1.7" height="28.12"/><rect x="453.1" y="531.08" width="1.7" height="28.12"/><rect x="457.2" y="446.74" width="6.2" height="37.49"/><rect x="467.5" y="484.22" width="2" height="18.74"/><rect x="470.5" y="540.46" width="5.2" height="9.37"/><rect x="473.6" y="446.74" width="2.1" height="37.49"/><rect x="473.6" y="502.97" width="2.1" height="28.12"/><rect x="483.9" y="531.08" width="1.6" height="18.74"/><rect x="488.4" y="531.08" width="1.6" height="9.37"/><rect x="489" y="446.74" width="4" height="9.37"/><rect x="491" y="456.11" width="2" height="28.12"/><rect x="498.3" y="446.74" width="1.7" height="9.37"/><rect x="508.5" y="446.74" width="2.1" height="9.37"/><rect x="510.6" y="465.48" width="2" height="18.74"/><rect x="516.7" y="456.11" width="2.1" height="18.74"/><rect x="505.5" y="502.97" width="2" height="9.37"/><rect x="506.5" y="531.08" width="3.7" height="9.37"/><rect x="514.7" y="540.46" width="4.1" height="18.74"/><rect x="530" y="446.74" width="2" height="112.46"/><rect x="534" y="446.74" width="4.8" height="112.46"/><rect x="549.5" y="446.74" width="4.1" height="84.35"/><rect x="551.5" y="531.08" width="4.1" height="28.12"/><rect x="559.7" y="446.74" width="2.5" height="112.46"/><rect x="569" y="484.22" width="1.6" height="74.98"/><rect x="573" y="446.74" width="2" height="18.74"/><rect x="573" y="474.85" width="2" height="28.12"/><rect x="575" y="540.46" width="4.2" height="18.74"/><rect x="580.2" y="502.97" width="3.1" height="28.12"/><rect x="584.3" y="446.74" width="1.7" height="9.37"/><rect x="592.5" y="446.74" width="2.1" height="9.37"/><rect x="592.5" y="531.08" width="2.1" height="9.37"/><rect x="597.6" y="540.46" width="1.7" height="18.74"/><rect x="599.7" y="484.22" width="3.1" height="74.98"/><rect x="604.8" y="446.74" width="4.2" height="112.46"/><rect x="613" y="502.97" width="3" height="28.12"/><rect x="619.1" y="502.97" width="1.7" height="56.23"/><rect x="625.3" y="484.22" width="1.7" height="18.74"/><rect x="625.3" y="531.08" width="1.7" height="28.12"/><rect x="629.4" y="484.22" width="2" height="18.74"/><rect x="632.5" y="484.22" width="2" height="18.74"/><rect x="632.5" y="540.46" width="2" height="9.37"/><rect x="636.5" y="540.46" width="1.7" height="9.37"/><rect x="646.8" y="446.74" width="4.2" height="112.46"/><rect x="653" y="446.74" width="2" height="37.49"/><rect x="652" y="446.74" width="2" height="9.37"/><rect x="652" y="465.48" width="2" height="9.37"/><rect x="652" y="502.97" width="2" height="18.74"/><rect x="652" y="531.08" width="2" height="9.37"/><rect x="657.4" y="446.74" width="1.6" height="93.72"/><rect x="657.4" y="549.83" width="1.6" height="9.37"/><rect x="678.8" y="465.48" width="2.2" height="9.37"/><rect x="678.8" y="484.22" width="2.2" height="74.98"/><rect x="683.1" y="521.71" width="1.7" height="9.37"/><rect x="680" y="531.08" width="3" height="9.37"/><rect x="666" y="531.08" width="1.7" height="9.37"/><rect x="702.4" y="456.11" width="1.7" height="9.37"/><rect x="698.1" y="531.08" width="1.7" height="9.37"/><rect x="707.3" y="502.97" width="1.7" height="28.12"/><rect x="711.6" y="549.83" width="3.7" height="9.37"/><rect x="726" y="446.74" width="1.7" height="56.23"/><rect x="725" y="502.97" width="3.5" height="28.12"/><rect x="732.4" y="446.74" width="1.7" height="84.35"/><rect x="743.1" y="465.48" width="2.2" height="18.74"/><rect x="748" y="549.83" width="1.8" height="9.37"/><rect x="756" y="502.97" width="1.7" height="28.12"/><rect x="771" y="531.08" width="2.2" height="9.37"/><rect x="778.5" y="484.22" width="2.2" height="46.86"/><rect x="778.5" y="540.46" width="2.2" height="9.37"/><rect x="801" y="502.97" width="1.8" height="28.12"/><rect x="806" y="484.22" width="3.6" height="18.74"/><rect x="815" y="446.74" width="1.7" height="37.49"/><rect x="816.7" y="502.97" width="1.7" height="28.12"/><rect x="814" y="549.83" width="4.2" height="9.37"/><rect x="823.8" y="446.74" width="2" height="112.46"/><rect x="155.5" y="93.08" width="2.2" height="101.02"/><rect x="162.2" y="166.55" width="3.7" height="9.18"/><rect x="216" y="129.82" width="1.7" height="36.73"/><rect x="239.6" y="129.82" width="1.7" height="36.73"/><rect x="279" y="111.45" width="1.4" height="82.65"/><rect x="212" y="184.92" width="1.4" height="9.18"/><rect x="257" y="184.92" width="1.7" height="9.18"/><rect x="295.7" y="184.92" width="1.5" height="9.18"/><rect x="317.5" y="184.92" width="3.5" height="9.18"/><rect x="334.3" y="120.63" width="1.7" height="73.47"/><rect x="339" y="111.45" width="1.5" height="9.18"/><rect x="360.4" y="111.45" width="1.4" height="9.18"/><rect x="377.8" y="129.82" width="1.4" height="36.73"/><rect x="325.7" y="166.55" width="1.7" height="27.55"/><rect x="328.2" y="184.92" width="1.4" height="9.18"/><rect x="358.3" y="166.55" width="1.4" height="27.55"/><rect x="381.9" y="166.55" width="1.6" height="9.18"/><rect x="422.4" y="184.92" width="8.2" height="9.18"/><rect x="474.6" y="166.55" width="1.4" height="27.55"/><rect x="489" y="184.92" width="2" height="9.18"/><rect x="534.3" y="93.08" width="1.9" height="101.02"/><rect x="530.4" y="120.63" width="1.5" height="9.18"/><rect x="607.9" y="111.45" width="1.6" height="9.18"/><rect x="640" y="120.63" width="1.7" height="9.18"/><rect x="579.6" y="166.55" width="4.1" height="9.18"/><rect x="597" y="166.55" width="1.7" height="9.18"/><rect x="506.5" y="184.92" width="1.5" height="9.18"/><rect x="530" y="184.92" width="1.5" height="9.18"/><rect x="536.2" y="184.92" width="2" height="9.18"/><rect x="540.9" y="184.92" width="1.4" height="9.18"/><rect x="560" y="184.92" width="2" height="9.18"/><rect x="599.3" y="184.92" width="1.4" height="9.18"/><rect x="610" y="184.92" width="4" height="9.18"/><rect x="646.8" y="184.92" width="3.2" height="9.18"/><rect x="653" y="184.92" width="3" height="9.18"/><rect x="773.2" y="102.27" width="2.5" height="9.18"/><rect x="657.4" y="184.92" width="1.5" height="9.18"/><rect x="677" y="184.92" width="3.5" height="9.18"/><rect x="780.2" y="184.92" width="1.3" height="9.18"/><rect x="825" y="184.92" width="1.5" height="9.18"/><rect x="155.5" y="792.8" width="2" height="46.94"/><rect x="155.5" y="849.12" width="2" height="18.77"/><rect x="162.2" y="792.8" width="3.3" height="9.39"/><rect x="162.2" y="849.12" width="3.3" height="18.77"/><rect x="168" y="792.8" width="2.4" height="46.94"/><rect x="203.2" y="802.19" width="2.4" height="18.77"/><rect x="216.3" y="792.8" width="3.2" height="9.39"/><rect x="231" y="792.8" width="3.3" height="46.94"/><rect x="239.2" y="792.8" width="1.6" height="28.16"/><rect x="248.2" y="792.8" width="2.5" height="9.39"/><rect x="256.4" y="792.8" width="2.5" height="46.94"/><rect x="261.3" y="792.8" width="3.3" height="9.39"/><rect x="265.4" y="858.51" width="6.6" height="9.39"/><rect x="283.4" y="802.19" width="1.7" height="37.55"/><rect x="209.7" y="858.51" width="3.3" height="9.39"/><rect x="222" y="858.51" width="4.1" height="9.39"/><rect x="290.9" y="792.8" width="2.5" height="46.94"/><rect x="296.7" y="792.8" width="2.4" height="46.94"/><rect x="304" y="792.8" width="5" height="46.94"/><rect x="312.2" y="792.8" width="12.8" height="46.94"/><rect x="327.8" y="792.8" width="2.4" height="46.94"/><rect x="332.7" y="792.8" width="4.1" height="46.94"/><rect x="343.3" y="792.8" width="1.4" height="46.94"/><rect x="347.4" y="792.8" width="5.8" height="46.94"/><rect x="356.5" y="792.8" width="2.4" height="46.94"/><rect x="364.6" y="792.8" width="6.6" height="46.94"/><rect x="381.9" y="792.8" width="2.4" height="46.94"/><rect x="388.4" y="792.8" width="5.7" height="46.94"/><rect x="325.3" y="839.74" width="3.3" height="18.77"/><rect x="338.4" y="839.74" width="5.8" height="9.39"/><rect x="351.5" y="858.51" width="8.2" height="9.39"/><rect x="361.4" y="849.12" width="3.2" height="18.77"/><rect x="371.2" y="858.51" width="6.6" height="9.39"/><rect x="381" y="858.51" width="9.9" height="9.39"/><rect x="416.3" y="792.8" width="5.7" height="56.33"/><rect x="418" y="792.8" width="3.3" height="46.94"/><rect x="429.5" y="802.19" width="3.2" height="37.55"/><rect x="434.4" y="802.19" width="3.3" height="37.55"/><rect x="441" y="792.8" width="3.2" height="46.94"/><rect x="449.1" y="792.8" width="5.8" height="46.94"/><rect x="461.4" y="792.8" width="4.1" height="46.94"/><rect x="473.7" y="792.8" width="4.9" height="46.94"/><rect x="483.5" y="792.8" width="5" height="46.94"/><rect x="496.7" y="792.8" width="10.6" height="46.94"/><rect x="503.2" y="839.74" width="4.1" height="28.16"/><rect x="510.6" y="792.8" width="2.4" height="46.94"/><rect x="457.3" y="839.74" width="3.3" height="9.39"/><rect x="457.3" y="858.51" width="3.3" height="9.39"/><rect x="436" y="839.74" width="11.5" height="9.39"/><rect x="495" y="849.12" width="8.2" height="9.39"/><rect x="542.8" y="792.8" width="4.6" height="75.1"/><rect x="547.4" y="792.8" width="6.6" height="75.1"/><rect x="536" y="792.8" width="3.5" height="75.1"/><rect x="550" y="792.8" width="7.4" height="56.33"/><rect x="564.7" y="792.8" width="4.1" height="56.33"/><rect x="576.2" y="792.8" width="6.6" height="37.55"/><rect x="587.7" y="792.8" width="4.9" height="28.16"/><rect x="597.5" y="792.8" width="3.3" height="28.16"/><rect x="603.3" y="792.8" width="7.3" height="56.33"/><rect x="614.7" y="792.8" width="1.7" height="56.33"/><rect x="620.5" y="792.8" width="4.1" height="28.16"/><rect x="628.6" y="792.8" width="5" height="46.94"/><rect x="639.3" y="792.8" width="5.7" height="46.94"/><rect x="651.6" y="792.8" width="6.5" height="28.16"/><rect x="662.2" y="792.8" width="5" height="46.94"/><rect x="673.7" y="792.8" width="5.7" height="75.1"/><rect x="566.4" y="858.51" width="24.6" height="9.39"/><rect x="594.2" y="858.51" width="8.2" height="9.39"/><rect x="615.5" y="858.51" width="8.2" height="9.39"/><rect x="681" y="792.8" width="5" height="75.1"/><rect x="686.5" y="802.19" width="1.7" height="37.55"/><rect x="691.8" y="792.8" width="6.2" height="9.39"/><rect x="693.6" y="839.74" width="4.4" height="18.77"/><rect x="699.8" y="802.19" width="2.2" height="18.77"/><rect x="704.3" y="792.8" width="1.8" height="9.39"/><rect x="709.6" y="792.8" width="2.7" height="75.1"/><rect x="719.4" y="792.8" width="2.7" height="75.1"/><rect x="720.3" y="849.12" width="5.4" height="9.39"/><rect x="727.5" y="792.8" width="4.4" height="9.39"/><rect x="727.5" y="820.96" width="4.4" height="28.16"/><rect x="735.5" y="792.8" width="1.8" height="75.1"/><rect x="745.3" y="792.8" width="2.3" height="75.1"/><rect x="749.8" y="811.57" width="5.3" height="28.16"/><rect x="766.7" y="792.8" width="2.7" height="75.1"/><rect x="773" y="792.8" width="3.5" height="75.1"/><rect x="789" y="792.8" width="1.8" height="9.39"/><rect x="789" y="839.74" width="1.8" height="28.16"/><rect x="795.2" y="792.8" width="2.7" height="75.1"/><rect x="801.5" y="792.8" width="3.5" height="75.1"/><rect x="810.4" y="792.8" width="3.6" height="75.1"/><rect x="822" y="792.8" width="2.6" height="75.1"/></g>
<g fill="#e8000a"><rect x="166.3" y="559.2" width="2" height="55.8"/><rect x="179.2" y="568.5" width="2" height="9.3"/><rect x="160.1" y="587.1" width="2.1" height="9.3"/><rect x="209.3" y="559.2" width="2.1" height="9.3"/><rect x="205.2" y="587.1" width="2.1" height="18.6"/><rect x="232.9" y="568.5" width="2" height="18.6"/><rect x="228.8" y="596.4" width="2.4" height="9.3"/><rect x="246.2" y="587.1" width="2" height="9.3"/><rect x="257" y="587.1" width="2" height="9.3"/><rect x="259" y="559.2" width="2" height="9.3"/><rect x="274.2" y="559.2" width="2.1" height="9.3"/><rect x="278.3" y="577.8" width="2.1" height="9.3"/><rect x="291.2" y="587.1" width="2.1" height="9.3"/><rect x="298" y="568.5" width="2" height="9.3"/><rect x="318.9" y="568.5" width="2.1" height="9.3"/><rect x="318.9" y="587.1" width="2.1" height="18.6"/><rect x="222.6" y="634.12" width="2.1" height="19.12"/><rect x="239" y="634.12" width="2.5" height="9.56"/><rect x="209.3" y="653.24" width="2.5" height="9.56"/><rect x="247.8" y="653.24" width="4.9" height="9.56"/><rect x="291.2" y="653.24" width="2.1" height="9.56"/><rect x="320" y="568.5" width="1.6" height="9.3"/><rect x="320" y="587.1" width="1.6" height="18.6"/><rect x="332.3" y="559.2" width="2" height="9.3"/><rect x="362" y="559.2" width="2" height="9.3"/><rect x="355.8" y="568.5" width="8.2" height="9.3"/><rect x="373.3" y="559.2" width="2" height="9.3"/><rect x="384.1" y="568.5" width="2.1" height="9.3"/><rect x="394.4" y="559.2" width="2.4" height="37.2"/><rect x="394.4" y="605.7" width="2.4" height="47.54"/><rect x="407.7" y="559.2" width="2" height="9.3"/><rect x="422.4" y="559.2" width="2.1" height="9.3"/><rect x="328.2" y="587.1" width="2" height="18.6"/><rect x="345.2" y="587.1" width="2" height="9.3"/><rect x="360" y="587.1" width="2" height="9.3"/><rect x="375.3" y="596.4" width="2.1" height="9.3"/><rect x="347.2" y="605.7" width="2.1" height="9.3"/><rect x="351.7" y="605.7" width="2.1" height="9.3"/><rect x="409.7" y="605.7" width="2.1" height="9.3"/><rect x="427" y="596.4" width="2" height="9.3"/><rect x="440.2" y="596.4" width="2.1" height="9.3"/><rect x="472.6" y="559.2" width="2" height="27.9"/><rect x="470.5" y="587.1" width="2.1" height="9.3"/><rect x="472.6" y="596.4" width="2" height="28.16"/><rect x="339" y="624.56" width="2.1" height="9.56"/><rect x="328.2" y="634.12" width="2" height="9.56"/><rect x="325.1" y="643.68" width="5.1" height="9.56"/><rect x="337" y="643.68" width="2" height="9.56"/><rect x="362" y="643.68" width="2" height="9.56"/><rect x="375.3" y="653.24" width="2.1" height="9.56"/><rect x="403" y="624.56" width="2" height="19.12"/><rect x="401.5" y="643.68" width="2.1" height="9.56"/><rect x="442.5" y="624.56" width="2" height="28.68"/><rect x="427" y="653.24" width="2" height="9.56"/><rect x="457.2" y="643.68" width="2.1" height="9.56"/><rect x="463.4" y="624.56" width="2.4" height="28.68"/><rect x="470.5" y="624.56" width="2.1" height="38.24"/><rect x="493.6" y="568.5" width="2" height="9.3"/><rect x="549.5" y="568.5" width="2" height="9.3"/><rect x="558.1" y="568.5" width="2.1" height="9.3"/><rect x="595" y="559.2" width="2" height="9.3"/><rect x="618.7" y="559.2" width="2.1" height="9.3"/><rect x="616.5" y="568.5" width="2" height="9.3"/><rect x="633" y="568.5" width="2.5" height="9.3"/><rect x="497.9" y="587.1" width="2" height="9.3"/><rect x="511" y="596.4" width="2" height="9.3"/><rect x="618.7" y="587.1" width="2.1" height="9.3"/><rect x="610" y="596.4" width="2" height="9.3"/><rect x="622.8" y="596.4" width="2.1" height="9.3"/><rect x="506.5" y="624.56" width="2" height="9.56"/><rect x="534.5" y="624.56" width="2.1" height="9.56"/><rect x="530" y="634.12" width="2" height="9.56"/><rect x="538.8" y="634.12" width="2.1" height="9.56"/><rect x="508.5" y="643.68" width="2.1" height="9.56"/><rect x="489" y="653.24" width="2.1" height="9.56"/><rect x="504.4" y="653.24" width="2.1" height="9.56"/><rect x="553.6" y="624.56" width="2.4" height="28.68"/><rect x="560.4" y="624.56" width="2" height="9.56"/><rect x="567" y="634.12" width="2" height="19.12"/><rect x="549.5" y="653.24" width="2" height="9.56"/><rect x="575.3" y="653.24" width="2.1" height="9.56"/><rect x="648.8" y="624.56" width="2.1" height="28.68"/><rect x="650.9" y="653.24" width="2.1" height="9.56"/><rect x="776" y="559.2" width="2.1" height="46.5"/><rect x="778" y="568.5" width="2" height="9.3"/><rect x="672.4" y="568.5" width="2.1" height="9.3"/><rect x="683.1" y="568.5" width="3.6" height="9.3"/><rect x="713.1" y="568.5" width="2.2" height="9.3"/><rect x="767.2" y="568.5" width="2.1" height="9.3"/><rect x="771" y="568.5" width="2.2" height="9.3"/><rect x="810" y="568.5" width="2.2" height="9.3"/><rect x="768.9" y="587.1" width="2.1" height="9.3"/><rect x="807.9" y="587.1" width="2.1" height="9.3"/><rect x="762.4" y="596.4" width="2.2" height="9.3"/><rect x="820.8" y="605.7" width="2.1" height="9.3"/><rect x="776" y="615" width="2.1" height="19.12"/><rect x="778.1" y="634.12" width="2.1" height="28.68"/><rect x="668.1" y="624.56" width="2.1" height="9.56"/><rect x="711" y="624.56" width="2.1" height="9.56"/><rect x="678.8" y="634.12" width="2.2" height="28.68"/><rect x="813.9" y="624.56" width="4.9" height="28.68"/><rect x="652" y="653.24" width="1.7" height="9.56"/><rect x="655.2" y="653.24" width="2.2" height="9.56"/><rect x="707.3" y="653.24" width="2.2" height="9.56"/><rect x="743.1" y="653.24" width="2.2" height="9.56"/><rect x="809.6" y="653.24" width="2.2" height="9.56"/><rect x="213.8" y="662.8" width="2" height="9.29"/><rect x="235.4" y="662.8" width="1.7" height="9.29"/><rect x="218.2" y="672.09" width="2" height="83.57"/><rect x="218.2" y="774.23" width="2" height="18.57"/><rect x="231" y="690.66" width="2" height="9.29"/><rect x="207.3" y="718.51" width="1.9" height="9.29"/><rect x="235.1" y="737.09" width="2" height="18.57"/><rect x="256.9" y="662.8" width="2" height="27.86"/><rect x="256.9" y="699.94" width="2" height="55.71"/><rect x="256.9" y="783.51" width="2" height="9.29"/><rect x="265.4" y="662.8" width="4.1" height="92.86"/><rect x="263.5" y="690.66" width="1.9" height="46.43"/><rect x="265.4" y="764.94" width="4.1" height="27.86"/><rect x="274.1" y="662.8" width="2" height="92.86"/><rect x="274.1" y="764.94" width="2" height="9.29"/><rect x="274.1" y="783.51" width="2" height="9.29"/><rect x="183.8" y="764.94" width="5.9" height="9.29"/><rect x="192.5" y="764.94" width="1.6" height="9.29"/><rect x="293.4" y="662.8" width="1.9" height="27.86"/><rect x="295.5" y="709.23" width="2" height="9.29"/><rect x="293.4" y="737.09" width="1.9" height="9.29"/><rect x="293.4" y="755.66" width="1.9" height="9.29"/><rect x="301.9" y="662.8" width="4.1" height="9.29"/><rect x="301.9" y="672.09" width="2" height="18.57"/><rect x="301.9" y="709.23" width="2" height="18.57"/><rect x="299.9" y="737.09" width="3.8" height="27.86"/><rect x="301.9" y="764.94" width="2" height="27.86"/><rect x="313" y="662.8" width="2" height="27.86"/><rect x="310.6" y="709.23" width="1.9" height="9.29"/><rect x="313" y="746.37" width="2" height="18.57"/><rect x="314.7" y="764.94" width="2.4" height="27.86"/><rect x="323.4" y="662.8" width="1.9" height="27.86"/><rect x="323.4" y="709.23" width="1.9" height="9.29"/><rect x="323.4" y="737.09" width="1.9" height="9.29"/><rect x="323.4" y="755.66" width="1.9" height="37.14"/><rect x="343" y="672.09" width="1.7" height="18.57"/><rect x="340.9" y="709.23" width="4.1" height="9.29"/><rect x="343" y="737.09" width="1.7" height="55.71"/><rect x="361.9" y="662.8" width="1.9" height="130"/><rect x="377" y="672.09" width="2" height="120.71"/><rect x="375.3" y="764.94" width="1.7" height="18.57"/><rect x="394.1" y="662.8" width="2" height="130"/><rect x="399" y="662.8" width="4.2" height="46.43"/><rect x="399" y="709.23" width="1.7" height="9.29"/><rect x="399" y="718.51" width="4.2" height="46.43"/><rect x="400.7" y="764.94" width="2" height="27.86"/><rect x="403.6" y="709.23" width="1.7" height="9.29"/><rect x="403.6" y="764.94" width="1.7" height="27.86"/><rect x="411.8" y="662.8" width="2" height="27.86"/><rect x="414.6" y="690.66" width="1.7" height="55.71"/><rect x="411.8" y="718.51" width="2.3" height="9.29"/><rect x="417.9" y="662.8" width="1.6" height="27.86"/><rect x="418" y="662.8" width="2" height="27.86"/><rect x="427" y="699.94" width="2" height="9.29"/><rect x="431.1" y="690.66" width="2" height="46.43"/><rect x="431.1" y="737.09" width="4.1" height="27.86"/><rect x="433.1" y="764.94" width="2.1" height="27.86"/><rect x="438" y="737.09" width="2" height="27.86"/><rect x="446.2" y="690.66" width="1.9" height="46.43"/><rect x="469.6" y="662.8" width="2.1" height="102.14"/><rect x="474.5" y="690.66" width="1.7" height="46.43"/><rect x="476.2" y="764.94" width="2.1" height="9.29"/><rect x="466" y="774.23" width="1.6" height="18.57"/><rect x="485.2" y="737.09" width="1.9" height="27.86"/><rect x="489.3" y="662.8" width="1.9" height="120.71"/><rect x="499.9" y="662.8" width="2" height="74.29"/><rect x="502.4" y="774.23" width="1.6" height="9.29"/><rect x="508.1" y="662.8" width="2.5" height="130"/><rect x="506.5" y="764.94" width="1.6" height="9.29"/><rect x="512.7" y="662.8" width="2" height="120.71"/><rect x="513.9" y="774.23" width="3.2" height="9.29"/><rect x="517.1" y="709.23" width="2" height="18.57"/><rect x="519.3" y="662.8" width="1.9" height="130"/><rect x="521.2" y="783.51" width="2" height="9.29"/><rect x="530.2" y="662.8" width="2" height="130"/><rect x="531" y="718.51" width="3.3" height="9.29"/><rect x="536.8" y="709.23" width="2" height="9.29"/><rect x="540.9" y="662.8" width="2.2" height="130"/><rect x="539.3" y="783.51" width="1.6" height="9.29"/><rect x="545.5" y="672.09" width="1.9" height="18.57"/><rect x="564.7" y="662.8" width="1.7" height="9.29"/><rect x="571.3" y="672.09" width="1.6" height="9.29"/><rect x="575.4" y="662.8" width="1.6" height="130"/><rect x="577" y="672.09" width="2.5" height="18.57"/><rect x="577" y="764.94" width="2.5" height="9.29"/><rect x="562.8" y="690.66" width="1.9" height="74.29"/><rect x="566.4" y="737.09" width="2" height="9.29"/><rect x="566.4" y="755.66" width="2" height="9.29"/><rect x="571.3" y="737.09" width="1.6" height="9.29"/><rect x="571.3" y="755.66" width="1.6" height="9.29"/><rect x="560.7" y="746.37" width="1.6" height="9.29"/><rect x="564.7" y="746.37" width="1.7" height="9.29"/><rect x="568.8" y="746.37" width="1.7" height="9.29"/><rect x="579.5" y="737.09" width="2" height="9.29"/><rect x="595" y="737.09" width="2" height="9.29"/><rect x="556.2" y="764.94" width="2" height="9.29"/><rect x="564.7" y="764.94" width="1.7" height="9.29"/><rect x="599.2" y="672.09" width="4.1" height="18.57"/><rect x="601.1" y="662.8" width="2.2" height="102.14"/><rect x="601.1" y="774.23" width="2.2" height="18.57"/><rect x="607.3" y="672.09" width="2.5" height="18.57"/><rect x="620.5" y="662.8" width="1.9" height="9.29"/><rect x="620.5" y="755.66" width="1.9" height="9.29"/><rect x="636" y="690.66" width="4.1" height="46.43"/><rect x="638" y="662.8" width="2.1" height="130"/><rect x="639.3" y="755.66" width="4.1" height="9.29"/><rect x="642.1" y="662.8" width="1.9" height="130"/><rect x="646.7" y="662.8" width="1.9" height="65"/><rect x="646.7" y="737.09" width="1.9" height="18.57"/><rect x="648" y="727.8" width="2.3" height="9.29"/><rect x="651.6" y="774.23" width="2" height="18.57"/><rect x="659" y="672.09" width="4.9" height="102.14"/><rect x="659.5" y="783.51" width="3.5" height="9.29"/><rect x="665.5" y="662.8" width="2.5" height="9.29"/><rect x="668" y="699.94" width="2.4" height="9.29"/><rect x="683" y="662.8" width="2.2" height="102.14"/><rect x="683" y="662.8" width="1.7" height="102.14"/><rect x="693.6" y="662.8" width="2.3" height="9.29"/><rect x="689.1" y="672.09" width="2.2" height="18.57"/><rect x="695.9" y="690.66" width="2.1" height="9.29"/><rect x="698" y="783.51" width="3.6" height="9.29"/><rect x="699.8" y="662.8" width="2.2" height="130"/><rect x="710.5" y="662.8" width="2.2" height="130"/><rect x="719.4" y="764.94" width="2.2" height="9.29"/><rect x="732.5" y="662.8" width="2.1" height="130"/><rect x="758.3" y="718.51" width="2.2" height="9.29"/><rect x="760.5" y="764.94" width="1.7" height="9.29"/><rect x="767.2" y="662.8" width="2.2" height="130"/><rect x="773.8" y="764.94" width="1.8" height="9.29"/><rect x="778" y="662.8" width="2.1" height="130"/><rect x="781.9" y="662.8" width="2.1" height="130"/><rect x="783.6" y="774.23" width="2.2" height="9.29"/><rect x="788.3" y="718.51" width="2.1" height="9.29"/><rect x="788.3" y="737.09" width="2.1" height="9.29"/><rect x="803.3" y="662.8" width="2.1" height="130"/><rect x="816.6" y="662.8" width="3.6" height="9.29"/><rect x="816.6" y="672.09" width="2.2" height="120.71"/><rect x="306.6" y="194.1" width="1.6" height="9.34"/><rect x="241.7" y="203.44" width="2" height="9.34"/><rect x="192.3" y="212.79" width="2.1" height="9.34"/><rect x="215.9" y="212.79" width="2" height="9.34"/><rect x="288.8" y="212.79" width="4.5" height="9.34"/><rect x="170.8" y="222.13" width="6.1" height="9.34"/><rect x="172.8" y="231.47" width="4.1" height="9.34"/><rect x="211.4" y="222.13" width="2" height="9.34"/><rect x="222.2" y="222.13" width="2.1" height="9.34"/><rect x="181.2" y="231.47" width="2.1" height="9.34"/><rect x="175.1" y="250.16" width="2" height="18.69"/><rect x="177.1" y="278.19" width="2.1" height="28.03"/><rect x="220" y="268.84" width="2.2" height="37.37"/><rect x="170.4" y="287.53" width="2" height="9.34"/><rect x="286.7" y="268.84" width="2.1" height="9.34"/><rect x="284.7" y="287.53" width="2" height="9.34"/><rect x="170.4" y="315.56" width="2" height="9.34"/><rect x="394.4" y="194.1" width="2.4" height="28.03"/><rect x="351.3" y="203.44" width="2.1" height="9.34"/><rect x="385.5" y="203.44" width="2.1" height="9.34"/><rect x="364" y="222.13" width="2.5" height="9.34"/><rect x="471.6" y="212.79" width="2.4" height="9.34"/><rect x="370.8" y="259.5" width="2" height="9.34"/><rect x="461" y="259.5" width="2" height="9.34"/><rect x="467.5" y="250.16" width="2" height="37.37"/><rect x="394.4" y="268.84" width="2.4" height="28.03"/><rect x="443.7" y="287.53" width="2.1" height="9.34"/><rect x="467.5" y="296.87" width="2" height="18.69"/><rect x="394.4" y="306.21" width="2.4" height="18.69"/><rect x="491.1" y="203.44" width="2.5" height="9.34"/><rect x="495.8" y="222.13" width="2.1" height="9.34"/><rect x="502" y="222.13" width="2" height="9.34"/><rect x="556" y="203.44" width="2.1" height="9.34"/><rect x="551.5" y="231.47" width="2.1" height="18.69"/><rect x="556" y="268.84" width="2.1" height="37.37"/><rect x="556" y="315.56" width="2.1" height="9.34"/><rect x="581.2" y="212.79" width="2.1" height="37.37"/><rect x="586" y="212.79" width="2" height="9.34"/><rect x="577.6" y="222.13" width="2" height="28.03"/><rect x="577.6" y="250.16" width="4.1" height="18.69"/><rect x="778.1" y="194.1" width="2.1" height="18.69"/><rect x="776" y="212.79" width="2.1" height="112.11"/><rect x="773.2" y="315.56" width="2.8" height="9.34"/><rect x="717.4" y="212.79" width="2.1" height="9.34"/><rect x="762.4" y="212.79" width="2.2" height="9.34"/><rect x="663.4" y="240.81" width="2.1" height="9.34"/><rect x="681" y="268.84" width="2.1" height="37.37"/><rect x="708.8" y="268.84" width="2.2" height="37.37"/><rect x="811.8" y="259.5" width="2.2" height="9.34"/><rect x="818.6" y="250.16" width="2.2" height="18.69"/><rect x="823" y="259.5" width="2" height="9.34"/><rect x="394" y="867.9" width="5.1" height="9.34"/><rect x="403.1" y="867.9" width="4.2" height="9.34"/><rect x="412.1" y="867.9" width="1.9" height="9.34"/><rect x="415.7" y="867.9" width="2.2" height="9.34"/><rect x="420" y="867.9" width="2.2" height="9.34"/><rect x="428.7" y="867.9" width="2.2" height="9.34"/><rect x="440" y="867.9" width="1.7" height="9.34"/><rect x="445.8" y="867.9" width="2.2" height="9.34"/><rect x="450.4" y="867.9" width="4.4" height="9.34"/><rect x="588" y="867.9" width="2.1" height="9.34"/><rect x="611.8" y="867.9" width="2.2" height="9.34"/><rect x="624.8" y="867.9" width="2.2" height="9.34"/><rect x="702.1" y="867.9" width="1.9" height="9.34"/><rect x="702.1" y="886.59" width="1.9" height="9.34"/><rect x="754.3" y="867.9" width="1.8" height="9.34"/><rect x="445.7" y="980.02" width="2.3" height="9.34"/><rect x="463.2" y="980.02" width="2.5" height="9.34"/><rect x="482.5" y="980.02" width="2.3" height="9.34"/><rect x="493.1" y="980.02" width="2.4" height="9.34"/><rect x="501.7" y="980.02" width="2.2" height="9.34"/><rect x="553.6" y="980.02" width="4.5" height="9.34"/><rect x="562.3" y="980.02" width="2.2" height="9.34"/><rect x="583.8" y="980.02" width="2.3" height="9.34"/><rect x="588" y="980.02" width="4.5" height="9.34"/><rect x="597" y="980.02" width="2.2" height="9.34"/><rect x="603" y="980.02" width="2.1" height="9.34"/><rect x="631.3" y="980.02" width="2.2" height="9.34"/><rect x="643.6" y="980.02" width="4.9" height="9.34"/><rect x="670.2" y="980.02" width="2.2" height="9.34"/><rect x="698" y="980.02" width="1.9" height="18.69"/><rect x="704.4" y="980.02" width="2.3" height="9.34"/><rect x="710.9" y="867.9" width="1.8" height="18.69"/><rect x="710.9" y="895.93" width="1.8" height="46.72"/><rect x="710.9" y="961.34" width="1.8" height="9.34"/><rect x="710.9" y="989.37" width="1.8" height="9.34"/><rect x="715.4" y="951.99" width="1.8" height="9.34"/><rect x="719.8" y="867.9" width="2" height="9.34"/><rect x="719.8" y="895.93" width="2" height="9.34"/><rect x="719.8" y="914.62" width="2" height="65.41"/><rect x="719.8" y="980.02" width="4.2" height="9.34"/><rect x="719.8" y="998.71" width="2" height="9.34"/><rect x="724" y="895.93" width="1.9" height="9.34"/><rect x="726.3" y="942.65" width="1.8" height="18.69"/><rect x="728.6" y="980.02" width="1.8" height="18.69"/><rect x="730.8" y="998.71" width="1.9" height="9.34"/><rect x="739.2" y="867.9" width="1.9" height="28.03"/><rect x="741.1" y="895.93" width="1.8" height="46.72"/><rect x="741.1" y="961.34" width="1.8" height="9.34"/><rect x="741.1" y="980.02" width="1.8" height="9.34"/><rect x="745.2" y="895.93" width="1.8" height="74.75"/><rect x="743.2" y="970.68" width="2" height="9.34"/><rect x="745.2" y="1008.06" width="1.8" height="9.34"/><rect x="752" y="895.93" width="1.8" height="46.72"/><rect x="758.8" y="895.93" width="1.5" height="46.72"/><rect x="749.7" y="980.02" width="1.8" height="9.34"/><rect x="752.8" y="998.71" width="1.8" height="9.34"/><rect x="767.1" y="877.24" width="1.8" height="18.69"/><rect x="767.1" y="942.65" width="1.8" height="9.34"/><rect x="767.1" y="998.71" width="1.8" height="9.34"/><rect x="776.2" y="998.71" width="1.8" height="9.34"/><rect x="792.8" y="867.9" width="1.8" height="28.03"/><rect x="792.8" y="905.27" width="1.8" height="65.41"/><rect x="794.6" y="970.68" width="2" height="9.34"/><rect x="801.1" y="951.99" width="2" height="9.34"/><rect x="806" y="867.9" width="2" height="121.47"/><rect x="198.7" y="418.62" width="2" height="9.37"/><rect x="232.9" y="437.36" width="2.4" height="9.37"/><rect x="394.4" y="324.9" width="2.4" height="46.86"/><rect x="394.4" y="409.25" width="2.4" height="37.49"/><rect x="448" y="371.76" width="2.5" height="37.49"/><rect x="470" y="371.76" width="2" height="9.37"/><rect x="415.9" y="399.88" width="2.1" height="9.37"/><rect x="368.8" y="418.62" width="2" height="9.37"/><rect x="482.8" y="437.36" width="2.1" height="9.37"/><rect x="566.5" y="334.27" width="2.5" height="18.74"/><rect x="653" y="324.9" width="2.6" height="9.37"/><rect x="605.2" y="399.88" width="2.1" height="9.37"/><rect x="639.6" y="427.99" width="2.1" height="9.37"/><rect x="734.6" y="353.02" width="2.5" height="9.37"/><rect x="775.5" y="324.9" width="2.2" height="103.09"/><rect x="777.5" y="427.99" width="2.5" height="18.74"/><rect x="681" y="409.25" width="2.1" height="9.37"/><rect x="683.1" y="437.36" width="2.1" height="9.37"/><rect x="232.9" y="446.74" width="2.4" height="28.12"/><rect x="260.9" y="484.22" width="4.1" height="9.37"/><rect x="200.7" y="502.97" width="2.1" height="28.12"/><rect x="185.7" y="531.08" width="2.1" height="9.37"/><rect x="252.3" y="531.08" width="2.1" height="9.37"/><rect x="280.4" y="531.08" width="2" height="9.37"/><rect x="291.2" y="531.08" width="2.1" height="9.37"/><rect x="243.5" y="540.46" width="2.1" height="9.37"/><rect x="237" y="549.83" width="2" height="9.37"/><rect x="241.7" y="549.83" width="2" height="9.37"/><rect x="306.2" y="549.83" width="2" height="9.37"/><rect x="394.4" y="446.74" width="2.4" height="37.49"/><rect x="339" y="484.22" width="2.1" height="46.86"/><rect x="409.7" y="484.22" width="2.1" height="18.74"/><rect x="416.3" y="484.22" width="2" height="46.86"/><rect x="426.5" y="502.97" width="2.5" height="28.12"/><rect x="463.4" y="484.22" width="2.4" height="18.74"/><rect x="467.5" y="502.97" width="2" height="9.37"/><rect x="360" y="531.08" width="2" height="18.74"/><rect x="362" y="540.46" width="2" height="18.74"/><rect x="394.4" y="531.08" width="2.4" height="28.12"/><rect x="467.5" y="531.08" width="2" height="18.74"/><rect x="472" y="531.08" width="2" height="9.37"/><rect x="482.8" y="446.74" width="2.1" height="9.37"/><rect x="573" y="465.48" width="2.5" height="9.37"/><rect x="547.5" y="474.85" width="2" height="9.37"/><rect x="549.5" y="484.22" width="2" height="18.74"/><rect x="523.3" y="502.97" width="2.4" height="9.37"/><rect x="525.7" y="512.34" width="2.5" height="9.37"/><rect x="523.3" y="521.71" width="2.4" height="9.37"/><rect x="592.5" y="502.97" width="2.5" height="28.12"/><rect x="627" y="502.97" width="2" height="28.12"/><rect x="575" y="531.08" width="2.2" height="9.37"/><rect x="525.5" y="540.46" width="2.5" height="18.74"/><rect x="758.2" y="446.74" width="2.1" height="9.37"/><rect x="777.5" y="446.74" width="2.1" height="37.49"/><rect x="776" y="484.22" width="2.1" height="46.86"/><rect x="777.5" y="531.08" width="2.5" height="9.37"/><rect x="776" y="540.46" width="2.1" height="9.37"/><rect x="777.5" y="549.83" width="2.5" height="9.37"/><rect x="713.1" y="531.08" width="2.6" height="18.74"/><rect x="764.6" y="531.08" width="2.6" height="9.37"/><rect x="684.8" y="540.46" width="2.2" height="9.37"/><rect x="756" y="549.83" width="2.2" height="9.37"/><rect x="271.8" y="166.55" width="2" height="18.37"/><rect x="338.8" y="184.92" width="1.9" height="9.18"/><rect x="360" y="184.92" width="2" height="9.18"/><rect x="394.8" y="184.92" width="2" height="9.18"/><rect x="467.9" y="175.73" width="1.8" height="18.37"/><rect x="519.2" y="184.92" width="2" height="9.18"/><rect x="164.2" y="802.19" width="1.9" height="37.55"/><rect x="217.9" y="802.19" width="2" height="37.55"/><rect x="224.5" y="792.8" width="1.9" height="46.94"/><rect x="252.3" y="792.8" width="2" height="9.39"/><rect x="261.3" y="802.19" width="2" height="18.77"/><rect x="265.1" y="792.8" width="6.9" height="46.94"/><rect x="274.1" y="792.8" width="2" height="46.94"/><rect x="282.6" y="792.8" width="2" height="9.39"/><rect x="154.8" y="839.74" width="4.9" height="9.39"/><rect x="161.9" y="839.74" width="1.9" height="9.39"/><rect x="168.4" y="839.74" width="2" height="9.39"/><rect x="190" y="839.74" width="4.1" height="9.39"/><rect x="202.8" y="839.74" width="2" height="9.39"/><rect x="207.3" y="839.74" width="1.9" height="9.39"/><rect x="172.8" y="849.12" width="2" height="9.39"/><rect x="196.6" y="849.12" width="2" height="9.39"/><rect x="183.5" y="858.51" width="2" height="9.39"/><rect x="190.4" y="858.51" width="1.6" height="9.39"/><rect x="194.6" y="858.51" width="1.7" height="9.39"/><rect x="198.7" y="858.51" width="2" height="9.39"/><rect x="216.3" y="858.51" width="1.9" height="9.39"/><rect x="226.9" y="858.51" width="2" height="9.39"/><rect x="252.3" y="858.51" width="4.6" height="9.39"/><rect x="258.9" y="858.51" width="6.2" height="9.39"/><rect x="276.1" y="858.51" width="1.9" height="9.39"/><rect x="299.9" y="792.8" width="4.1" height="9.39"/><rect x="301.9" y="802.19" width="2.1" height="37.55"/><rect x="345" y="802.19" width="2" height="28.16"/><rect x="354" y="802.19" width="2" height="37.55"/><rect x="372.8" y="792.8" width="2.5" height="9.39"/><rect x="377.8" y="792.8" width="4.1" height="46.94"/><rect x="377.8" y="839.74" width="2" height="9.39"/><rect x="394.5" y="792.8" width="2.1" height="75.1"/><rect x="399" y="792.8" width="2" height="75.1"/><rect x="403.2" y="792.8" width="1.9" height="28.16"/><rect x="401.5" y="820.96" width="1.7" height="28.16"/><rect x="407.3" y="802.19" width="1.9" height="9.39"/><rect x="317.1" y="839.74" width="2" height="9.39"/><rect x="321.2" y="839.74" width="4.1" height="9.39"/><rect x="334.3" y="839.74" width="2.2" height="9.39"/><rect x="345" y="839.74" width="2" height="9.39"/><rect x="349.1" y="839.74" width="1.9" height="9.39"/><rect x="360.6" y="839.74" width="3.2" height="9.39"/><rect x="388.4" y="839.74" width="2" height="9.39"/><rect x="308.4" y="849.12" width="2.2" height="9.39"/><rect x="312.7" y="849.12" width="2.1" height="9.39"/><rect x="329.9" y="849.12" width="4.4" height="9.39"/><rect x="366.3" y="849.12" width="2" height="9.39"/><rect x="381.9" y="849.12" width="1.9" height="9.39"/><rect x="392.2" y="849.12" width="4.4" height="9.39"/><rect x="345" y="858.51" width="2" height="9.39"/><rect x="349.6" y="858.51" width="1.9" height="9.39"/><rect x="390.4" y="858.51" width="2.1" height="9.39"/><rect x="407.3" y="858.51" width="1.9" height="9.39"/><rect x="418.7" y="849.12" width="2" height="18.77"/><rect x="431.1" y="792.8" width="4.1" height="9.39"/><rect x="427" y="802.19" width="2" height="37.55"/><rect x="438" y="802.19" width="2" height="37.55"/><rect x="465.8" y="802.19" width="2" height="37.55"/><rect x="470.1" y="792.8" width="2" height="28.16"/><rect x="489.3" y="802.19" width="1.9" height="46.94"/><rect x="508.1" y="792.8" width="2" height="28.16"/><rect x="513" y="820.96" width="2" height="18.77"/><rect x="519.6" y="792.8" width="2" height="9.39"/><rect x="519.6" y="820.96" width="2" height="18.77"/><rect x="523.7" y="792.8" width="2" height="9.39"/><rect x="528.1" y="802.19" width="3.3" height="37.55"/><rect x="530.2" y="792.8" width="4.1" height="9.39"/><rect x="424.6" y="839.74" width="1.9" height="9.39"/><rect x="433.1" y="839.74" width="1.9" height="9.39"/><rect x="448.3" y="839.74" width="2" height="9.39"/><rect x="472.1" y="839.74" width="1.9" height="9.39"/><rect x="478.6" y="839.74" width="2" height="9.39"/><rect x="486.8" y="839.74" width="6.6" height="9.39"/><rect x="508.6" y="839.74" width="2" height="9.39"/><rect x="515.5" y="839.74" width="3.6" height="9.39"/><rect x="530.2" y="839.74" width="2" height="9.39"/><rect x="418" y="849.12" width="1.6" height="9.39"/><rect x="459.8" y="849.12" width="1.6" height="9.39"/><rect x="489.3" y="849.12" width="1.9" height="9.39"/><rect x="511.4" y="849.12" width="3.6" height="9.39"/><rect x="517.1" y="849.12" width="2" height="9.39"/><rect x="424.6" y="858.51" width="1.9" height="9.39"/><rect x="433.2" y="858.51" width="4.5" height="9.39"/><rect x="448.3" y="858.51" width="2" height="9.39"/><rect x="455.4" y="858.51" width="1.9" height="9.39"/><rect x="468" y="858.51" width="2" height="9.39"/><rect x="481.1" y="858.51" width="3.3" height="9.39"/><rect x="493.4" y="858.51" width="1.9" height="9.39"/><rect x="506.5" y="858.51" width="1.9" height="9.39"/><rect x="532.7" y="858.51" width="2" height="9.39"/><rect x="549.9" y="849.12" width="1.6" height="9.39"/><rect x="562.3" y="792.8" width="2" height="46.94"/><rect x="560.7" y="839.74" width="3.6" height="9.39"/><rect x="569.3" y="802.19" width="2" height="46.94"/><rect x="573.8" y="792.8" width="1.9" height="56.33"/><rect x="577.5" y="802.19" width="2" height="37.55"/><rect x="584.1" y="792.8" width="1.9" height="9.39"/><rect x="595" y="802.19" width="2" height="18.77"/><rect x="592.6" y="820.96" width="4.1" height="18.77"/><rect x="601.1" y="792.8" width="2" height="56.33"/><rect x="599.2" y="839.74" width="4.1" height="9.39"/><rect x="602.1" y="820.96" width="2.8" height="9.39"/><rect x="620.8" y="820.96" width="2" height="18.77"/><rect x="629.5" y="839.74" width="1.9" height="9.39"/><rect x="637.7" y="792.8" width="1.9" height="9.39"/><rect x="637.7" y="839.74" width="1.9" height="9.39"/><rect x="641.8" y="839.74" width="5.7" height="9.39"/><rect x="646.7" y="792.8" width="1.9" height="9.39"/><rect x="646.7" y="820.96" width="1.9" height="18.77"/><rect x="649.1" y="802.19" width="1.7" height="28.16"/><rect x="651.6" y="839.74" width="2" height="9.39"/><rect x="657.3" y="839.74" width="4.1" height="9.39"/><rect x="659.5" y="792.8" width="1.9" height="46.94"/><rect x="668" y="792.8" width="2" height="46.94"/><rect x="677" y="792.8" width="2" height="9.39"/><rect x="550.8" y="849.12" width="2" height="9.39"/><rect x="554.1" y="849.12" width="2" height="9.39"/><rect x="571.3" y="849.12" width="2" height="9.39"/><rect x="577" y="849.12" width="4.1" height="9.39"/><rect x="583.6" y="849.12" width="2" height="9.39"/><rect x="614.2" y="849.12" width="2" height="9.39"/><rect x="552" y="858.51" width="1.6" height="9.39"/><rect x="641.8" y="858.51" width="1.9" height="9.39"/><rect x="668" y="858.51" width="2" height="9.39"/><rect x="674.5" y="858.51" width="2" height="9.39"/><rect x="683" y="792.8" width="2" height="46.94"/><rect x="699.8" y="792.8" width="2.2" height="9.39"/><rect x="691.8" y="802.19" width="2.2" height="37.55"/><rect x="732.5" y="792.8" width="2.5" height="56.33"/><rect x="778.3" y="792.8" width="2.1" height="75.1"/><rect x="781.9" y="792.8" width="2.1" height="56.33"/><rect x="788.6" y="802.19" width="4" height="18.77"/><rect x="789.9" y="820.96" width="2.7" height="18.77"/><rect x="786.3" y="830.35" width="2.2" height="9.39"/><rect x="760.5" y="820.96" width="2.1" height="9.39"/><rect x="814.8" y="820.96" width="3.6" height="18.77"/><rect x="816.6" y="802.19" width="2.2" height="18.77"/><rect x="687.3" y="839.74" width="2.2" height="9.39"/><rect x="711" y="839.74" width="4.3" height="9.39"/><rect x="723.9" y="839.74" width="2.1" height="9.39"/><rect x="773.8" y="839.74" width="2.2" height="9.39"/><rect x="797" y="839.74" width="2.2" height="9.39"/><rect x="726.2" y="849.12" width="2.2" height="9.39"/><rect x="756.5" y="849.12" width="2.2" height="9.39"/><rect x="778.3" y="849.12" width="3.6" height="9.39"/><rect x="806" y="849.12" width="2.1" height="9.39"/><rect x="824.7" y="849.12" width="2.1" height="9.39"/><rect x="684.7" y="858.51" width="4.4" height="9.39"/><rect x="711" y="858.51" width="2.2" height="9.39"/><rect x="719.4" y="858.51" width="2.2" height="9.39"/><rect x="737.3" y="858.51" width="2.1" height="9.39"/><rect x="748" y="858.51" width="2.1" height="9.39"/><rect x="798.8" y="858.51" width="2.1" height="9.39"/><rect x="803.3" y="858.51" width="2.1" height="9.39"/><rect x="810" y="858.51" width="2.2" height="9.39"/></g>
<rect x="543.2" y="84" width="2.2" height="932" fill="none" stroke="#9a9a9a" stroke-width="0.8"/><path d="M558.8 109.4L552.6 115.2" stroke="#111" stroke-width="2"/><path d="M549.3 118.6L550.4 112.4L555.6 117.2Z" fill="#111"/><rect x="153.7" y="82.8" width="673.9" height="933.9" fill="none" stroke="#000" stroke-width="2.1"/><rect x="153" y="193.2" width="675" height="1.8" fill="#111"/><rect x="153" y="324" width="675" height="1.8" fill="#111"/><rect x="153" y="558.3" width="675" height="1.8" fill="#111"/><rect x="153" y="614.1" width="675" height="1.8" fill="#111"/><rect x="153" y="661.9" width="675" height="1.8" fill="#111"/><rect x="153" y="791.9" width="675" height="1.8" fill="#111"/><rect x="153" y="867" width="675" height="1.8" fill="#111"/><path d="M147.63 88.4L147.63 97.73M147.63 88.4L153 88.4M147.63 97.73L153 97.73M143.71 93.06L143.71 107.06M143.71 93.06L147.63 93.06M143.71 107.06L153 107.06M139.79 100.06L139.79 116.39M139.79 100.06L143.71 100.06M139.79 116.39L153 116.39M135.87 108.23L135.87 125.72M135.87 108.23L139.79 108.23M135.87 125.72L153 125.72M147.63 135.05L147.63 144.38M147.63 135.05L153 135.05M147.63 144.38L153 144.38M143.71 139.72L143.71 153.71M143.71 139.72L147.63 139.72M143.71 153.71L153 153.71M139.79 146.71L139.79 163.04M139.79 146.71L143.71 146.71M139.79 163.04L153 163.04M131.95 116.97L131.95 154.88M131.95 116.97L135.87 116.97M131.95 154.88L139.79 154.88M147.63 172.37L147.63 181.7M147.63 172.37L153 172.37M147.63 181.7L153 181.7M128.03 135.92L128.03 177.03M128.03 135.92L131.95 135.92M128.03 177.03L147.63 177.03M124.11 156.48L124.11 191.03M124.11 156.48L128.03 156.48M124.11 191.03L153 191.03M120.19 173.75L120.19 200.36M120.19 173.75L124.11 173.75M120.19 200.36L153 200.36M147.63 237.68L147.63 247.01M147.63 237.68L153 237.68M147.63 247.01L153 247.01M143.71 228.35L143.71 242.35M143.71 228.35L153 228.35M143.71 242.35L147.63 242.35M147.63 256.34L147.63 265.67M147.63 256.34L153 256.34M147.63 265.67L153 265.67M139.79 235.35L139.79 261M139.79 235.35L143.71 235.35M139.79 261L147.63 261M135.87 219.02L135.87 248.18M135.87 219.02L153 219.02M135.87 248.18L139.79 248.18M131.95 209.69L131.95 233.6M131.95 209.69L153 209.69M131.95 233.6L135.87 233.6M147.63 293.66L147.63 302.99M147.63 293.66L153 293.66M147.63 302.99L153 302.99M143.71 284.33L143.71 298.32M143.71 284.33L153 284.33M143.71 298.32L147.63 298.32M139.79 275L139.79 291.33M139.79 275L153 275M139.79 291.33L143.71 291.33M128.03 221.64L128.03 283.16M128.03 221.64L131.95 221.64M128.03 283.16L139.79 283.16M147.63 312.32L147.63 321.65M147.63 312.32L153 312.32M147.63 321.65L153 321.65M124.11 252.4L124.11 316.99M124.11 252.4L128.03 252.4M124.11 316.99L147.63 316.99M116.27 187.06L116.27 284.69M116.27 187.06L120.19 187.06M116.27 284.69L124.11 284.69M147.63 340.31L147.63 349.64M147.63 340.31L153 340.31M147.63 349.64L153 349.64M147.63 358.97L147.63 368.3M147.63 358.97L153 358.97M147.63 368.3L153 368.3M147.63 396.29L147.63 405.62M147.63 396.29L153 396.29M147.63 405.62L153 405.62M143.71 386.96L143.71 400.95M143.71 386.96L153 386.96M143.71 400.95L147.63 400.95M139.79 377.63L139.79 393.96M139.79 377.63L153 377.63M139.79 393.96L143.71 393.96M135.87 363.63L135.87 385.79M135.87 363.63L147.63 363.63M135.87 385.79L139.79 385.79M131.95 344.98L131.95 374.71M131.95 344.98L147.63 344.98M131.95 374.71L135.87 374.71M128.03 330.98L128.03 359.84M128.03 330.98L153 330.98M128.03 359.84L131.95 359.84M147.63 414.95L147.63 424.28M147.63 414.95L153 414.95M147.63 424.28L153 424.28M147.63 470.93L147.63 480.26M147.63 470.93L153 470.93M147.63 480.26L153 480.26M143.71 461.6L143.71 475.6M143.71 461.6L153 461.6M143.71 475.6L147.63 475.6M139.79 452.27L139.79 468.6M139.79 452.27L153 452.27M139.79 468.6L143.71 468.6M135.87 442.94L135.87 460.43M135.87 442.94L153 442.94M135.87 460.43L139.79 460.43M131.95 433.61L131.95 451.69M131.95 433.61L153 433.61M131.95 451.69L135.87 451.69M128.03 419.62L128.03 442.65M128.03 419.62L147.63 419.62M128.03 442.65L131.95 442.65M147.63 489.59L147.63 498.92M147.63 489.59L153 489.59M147.63 498.92L153 498.92M147.63 517.58L147.63 526.91M147.63 517.58L153 517.58M147.63 526.91L153 526.91M143.71 508.25L143.71 522.25M143.71 508.25L153 508.25M143.71 522.25L147.63 522.25M139.79 494.25L139.79 515.25M139.79 494.25L147.63 494.25M139.79 515.25L143.71 515.25M124.11 431.13L124.11 504.75M124.11 431.13L128.03 431.13M124.11 504.75L139.79 504.75M120.19 345.41L120.19 467.94M120.19 345.41L128.03 345.41M120.19 467.94L124.11 467.94M147.63 545.57L147.63 554.9M147.63 545.57L153 545.57M147.63 554.9L153 554.9M143.71 536.24L143.71 550.24M143.71 536.24L153 536.24M143.71 550.24L147.63 550.24M116.27 406.68L116.27 543.24M116.27 406.68L120.19 406.68M116.27 543.24L143.71 543.24M112.35 235.88L112.35 474.96M112.35 235.88L116.27 235.88M112.35 474.96L116.27 474.96M147.63 564.23L147.63 573.56M147.63 564.23L153 564.23M147.63 573.56L153 573.56M143.71 568.89L143.71 582.89M143.71 568.89L147.63 568.89M143.71 582.89L153 582.89M147.63 592.22L147.63 601.55M147.63 592.22L153 592.22M147.63 601.55L153 601.55M139.79 575.89L139.79 596.88M139.79 575.89L143.71 575.89M139.79 596.88L147.63 596.88M135.87 586.39L135.87 610.88M135.87 586.39L139.79 586.39M135.87 610.88L153 610.88M131.95 598.63L131.95 620.21M131.95 598.63L135.87 598.63M131.95 620.21L153 620.21M108.43 355.42L108.43 609.42M108.43 355.42L112.35 355.42M108.43 609.42L131.95 609.42M147.63 638.87L147.63 648.2M147.63 638.87L153 638.87M147.63 648.2L153 648.2M143.71 629.54L143.71 643.53M143.71 629.54L153 629.54M143.71 643.53L147.63 643.53M104.51 482.42L104.51 636.54M104.51 482.42L108.43 482.42M104.51 636.54L143.71 636.54M100.59 559.48L100.59 657.53M100.59 559.48L104.51 559.48M100.59 657.53L153 657.53M147.63 676.19L147.63 685.52M147.63 676.19L153 676.19M147.63 685.52L153 685.52M147.63 704.18L147.63 713.51M147.63 704.18L153 704.18M147.63 713.51L153 713.51M143.71 708.85L143.71 722.84M143.71 708.85L147.63 708.85M143.71 722.84L153 722.84M139.79 694.85L139.79 715.84M139.79 694.85L153 694.85M139.79 715.84L143.71 715.84M135.87 705.35L135.87 732.17M135.87 705.35L139.79 705.35M135.87 732.17L153 732.17M147.63 750.83L147.63 760.16M147.63 750.83L153 750.83M147.63 760.16L153 760.16M143.71 741.5L143.71 755.49M143.71 741.5L153 741.5M143.71 755.49L147.63 755.49M131.95 718.76L131.95 748.5M131.95 718.76L135.87 718.76M131.95 748.5L143.71 748.5M128.03 680.86L128.03 733.63M128.03 680.86L147.63 680.86M128.03 733.63L131.95 733.63M124.11 666.86L124.11 707.24M124.11 666.86L153 666.86M124.11 707.24L128.03 707.24M147.63 778.82L147.63 788.15M147.63 778.82L153 778.82M147.63 788.15L153 788.15M143.71 769.49L143.71 783.48M143.71 769.49L153 769.49M143.71 783.48L147.63 783.48M120.19 687.05L120.19 776.49M120.19 687.05L124.11 687.05M120.19 776.49L143.71 776.49M116.27 731.77L116.27 797.48M116.27 731.77L120.19 731.77M116.27 797.48L153 797.48M147.63 806.81L147.63 816.14M147.63 806.81L153 806.81M147.63 816.14L153 816.14M147.63 825.47L147.63 834.8M147.63 825.47L153 825.47M147.63 834.8L153 834.8M143.71 811.47L143.71 830.13M143.71 811.47L147.63 811.47M143.71 830.13L147.63 830.13M112.35 764.62L112.35 820.8M112.35 764.62L116.27 764.62M112.35 820.8L143.71 820.8M108.43 792.71L108.43 844.13M108.43 792.71L112.35 792.71M108.43 844.13L153 844.13M96.67 608.5L96.67 818.42M96.67 608.5L100.59 608.5M96.67 818.42L108.43 818.42M92.75 713.46L92.75 853.46M92.75 713.46L96.67 713.46M92.75 853.46L153 853.46M88.83 783.46L88.83 862.79M88.83 783.46L92.75 783.46M88.83 862.79L153 862.79M147.63 881.45L147.63 890.78M147.63 881.45L153 881.45M147.63 890.78L153 890.78M143.71 872.12L143.71 886.12M143.71 872.12L153 872.12M143.71 886.12L147.63 886.12M147.63 928.1L147.63 937.43M147.63 928.1L153 928.1M147.63 937.43L153 937.43M143.71 918.77L143.71 932.76M143.71 918.77L153 918.77M143.71 932.76L147.63 932.76M139.79 909.44L139.79 925.77M139.79 909.44L153 909.44M139.79 925.77L143.71 925.77M135.87 900.11L135.87 917.6M135.87 900.11L153 900.11M135.87 917.6L139.79 917.6M131.95 879.12L131.95 908.86M131.95 879.12L143.71 879.12M131.95 908.86L135.87 908.86M147.63 946.76L147.63 956.09M147.63 946.76L153 946.76M147.63 956.09L153 956.09M128.03 893.99L128.03 951.42M128.03 893.99L131.95 893.99M128.03 951.42L147.63 951.42M124.11 922.71L124.11 965.42M124.11 922.71L128.03 922.71M124.11 965.42L153 965.42M120.19 944.06L120.19 974.75M120.19 944.06L124.11 944.06M120.19 974.75L153 974.75M147.63 984.08L147.63 993.41M147.63 984.08L153 984.08M147.63 993.41L153 993.41M116.27 959.41L116.27 988.75M116.27 959.41L120.19 959.41M116.27 988.75L147.63 988.75M112.35 974.08L112.35 1002.74M112.35 974.08L116.27 974.08M112.35 1002.74L153 1002.74M84.91 823.13L84.91 988.41M84.91 823.13L88.83 823.13M84.91 988.41L112.35 988.41M80.99 905.77L80.99 1012.07M80.99 905.77L84.91 905.77M80.99 1012.07L153 1012.07" stroke="#1c1c1c" stroke-width="1.35" fill="none" stroke-linecap="square"/><rect x="154.9" y="27.35" width="672.2" height="18.6" rx="1.2" fill="#fff" stroke="#111" stroke-width="1.4"/><rect x="157.95" y="28.05" width="17.55" height="17.2" fill="#d40000"/><rect x="353" y="28.05" width="4.8" height="17.2" fill="#e3701f"/><rect x="394.2" y="28.05" width="4.8" height="17.2" fill="#e3701f"/><rect x="423.9" y="28.05" width="4.3" height="17.2" fill="#e3701f"/><rect x="454.2" y="28.05" width="4.8" height="17.2" fill="#e3701f"/><rect x="483" y="28.05" width="4.6" height="17.2" fill="#e3701f"/><rect x="517.3" y="28.05" width="4.9" height="17.2" fill="#e3701f"/><rect x="548" y="28.05" width="4.3" height="17.2" fill="#e3701f"/><rect x="559.5" y="28.05" width="4.8" height="17.2" fill="#e3701f"/><rect x="642.5" y="28.05" width="135" height="17.2" fill="#3333f5"/><rect x="679.9" y="28.05" width="1.9" height="17.2" fill="#fff"/><rect x="704.8" y="28.05" width="1.6" height="17.2" fill="#fff"/><rect x="795.6" y="28.05" width="2.2" height="17.2" fill="#2f6f7f"/><rect x="819.4" y="28.05" width="2.2" height="17.2" fill="#2f6f7f"/><path d="M158.9 27.9V43M175.3 27.9V43M182.8 27.9V43M185.7 27.9V43M188.6 27.9V43M196 27.9V43M200 27.9V43M206.7 27.9V43M280.2 27.9V43M603.6 27.9V43M609 27.9V43M613.7 27.9V43M642.3 27.9V43M654.6 27.9V43M666.7 27.9V43M678.1 27.9V43M701.3 27.9V43M711.3 27.9V43M720.9 27.9V43M729.1 27.9V43M742 27.9V43M752.7 27.9V43M761.9 27.9V43M778.2 27.9V43M787.8 27.9V43" stroke="#000" stroke-width="1.5" stroke-dasharray="5.8 3.2" fill="none"/><path d="M154.3 64.7H827.6M154.3 62V67.6M827.6 62V67.6" stroke="#0a0a0a" stroke-width="1.6" fill="none"/><rect x="155.1" y="1.2" width="9.6" height="8.8" fill="#d40000" stroke="#7a1010" stroke-width="0.9"/><rect x="325.4" y="1.2" width="9.6" height="8.8" fill="#e3701f" stroke="#8a4a1a" stroke-width="0.9"/><rect x="431.1" y="1.2" width="9.6" height="8.8" fill="#3333f5" stroke="#22227a" stroke-width="0.9"/><rect x="582.6" y="1.2" width="9.6" height="8.8" fill="#2f6f7f" stroke="#1f4450" stroke-width="0.9"/></svg>
<div class="t" style="left:-0.2px;top:0.59px">BRCA2</div><div class="t" style="left:-0.2px;top:13.49px">Protein length</div><div class="t" style="left:1.2px;top:50.49px">cDNA</div><div class="t" style="left:169px;top:-0.21px">Transactivation domain</div><div class="t" style="left:339.3px;top:-0.21px">BRC repeats</div><div class="t" style="left:444px;top:-0.21px">DNA-binding domain</div><div class="t" style="left:595px;top:-0.21px">Nuclear localization signals</div><div class="t" style="left:152.6px;top:14.09px">0</div><div class="t" style="left:232.8px;top:14.09px">500</div><div class="t" style="left:332.2px;top:14.09px">1000</div><div class="t" style="left:435.2px;top:14.09px">1500</div><div class="t" style="left:535.3px;top:14.09px">2000</div><div class="t" style="left:639px;top:14.09px">2500</div><div class="t" style="left:740px;top:14.09px">3000</div><div class="t" style="left:152.8px;top:51.19px">0</div><div class="t" style="left:332.2px;top:51.19px">3000</div><div class="t" style="left:535.3px;top:51.19px">6000</div><div class="t" style="left:738.5px;top:51.19px">9000</div><div class="t" style="left:548.5px;top:98.49px">6174delT</div><div class="t" style="left:-0.1px;top:126.09px">Primate</div><div class="t" style="left:-0.1px;top:141.49px">(8)</div><div class="t" style="left:-0.1px;top:253.59px">Euarchontoglires</div><div class="t" style="left:-0.1px;top:268.99px">(101)</div><div class="t" style="left:-0.1px;top:425.49px">Laurasiatheria</div><div class="t" style="left:-0.1px;top:440.49px">(122)</div><div class="t" style="left:-0.1px;top:580.29px">Afrotheria</div><div class="t" style="left:-0.1px;top:595.49px">(83)</div><div class="t" style="left:-0.1px;top:632.89px">Mammal</div><div class="t" style="left:-0.1px;top:647.89px">(71)</div><div class="t" style="left:-0.1px;top:721.89px">Aves</div><div class="t" style="left:-0.1px;top:737.19px">(604)</div><div class="t" style="left:-0.1px;top:821.29px">Sarcopterygii</div><div class="t" style="left:-0.1px;top:836.89px">(329)</div><div class="t" style="left:-0.1px;top:930.49px">Fish</div><div class="t" style="left:-0.1px;top:945.39px">(127)</div>
</body></html>
